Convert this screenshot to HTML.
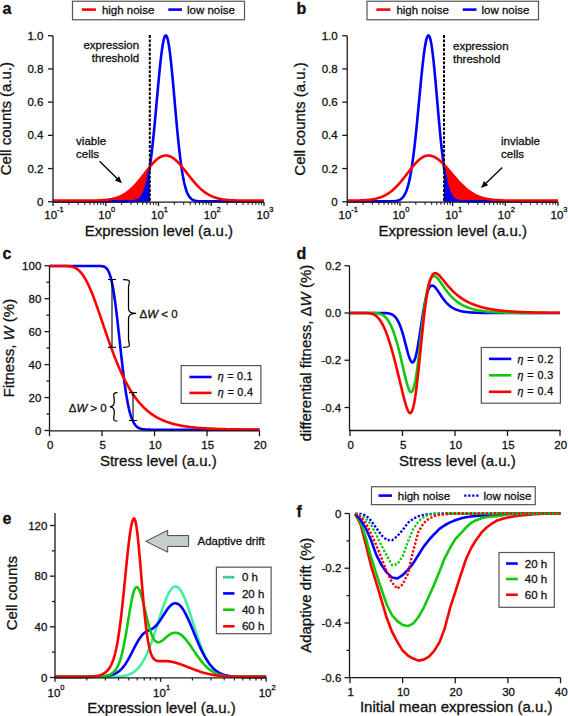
<!DOCTYPE html>
<html><head><meta charset="utf-8"><style>
html,body{margin:0;padding:0;background:#fff;}
body{width:568px;height:716px;overflow:hidden;}
svg{display:block;}
</style></head><body>
<svg width="568" height="716" viewBox="0 0 568 716">
<style>text{stroke:#111;stroke-width:0.3px;}</style>
<g font-family='"Liberation Sans", sans-serif' fill="#111">
<path d="M53,201.75 L53,200.65 L53.81,200.65 L54.63,200.65 L55.44,200.65 L56.26,200.65 L57.07,200.65 L57.89,200.65 L58.7,200.65 L59.52,200.65 L60.33,200.65 L61.15,200.65 L61.96,200.65 L62.78,200.65 L63.59,200.65 L64.41,200.65 L65.22,200.65 L66.03,200.65 L66.85,200.65 L67.66,200.65 L68.48,200.65 L69.29,200.65 L70.11,200.65 L70.92,200.65 L71.74,200.65 L72.55,200.65 L73.37,200.65 L74.18,200.65 L75,200.65 L75.81,200.65 L76.63,200.64 L77.44,200.64 L78.25,200.64 L79.07,200.64 L79.88,200.64 L80.7,200.64 L81.51,200.64 L82.33,200.63 L83.14,200.63 L83.96,200.63 L84.77,200.62 L85.59,200.62 L86.4,200.61 L87.22,200.61 L88.03,200.6 L88.85,200.6 L89.66,200.59 L90.47,200.58 L91.29,200.57 L92.1,200.55 L92.92,200.54 L93.73,200.52 L94.55,200.51 L95.36,200.49 L96.18,200.46 L96.99,200.44 L97.81,200.41 L98.62,200.38 L99.44,200.34 L100.25,200.3 L101.07,200.26 L101.88,200.21 L102.69,200.16 L103.51,200.1 L104.32,200.03 L105.14,199.95 L105.95,199.87 L106.77,199.78 L107.58,199.68 L108.4,199.57 L109.21,199.45 L110.03,199.32 L110.84,199.18 L111.66,199.02 L112.47,198.85 L113.29,198.67 L114.1,198.47 L114.92,198.25 L115.73,198.02 L116.54,197.77 L117.36,197.49 L118.17,197.2 L118.99,196.89 L119.8,196.55 L120.62,196.19 L121.43,195.8 L122.25,195.39 L123.06,194.96 L123.88,194.49 L124.69,194 L125.51,193.49 L126.32,192.94 L127.14,192.36 L127.95,191.75 L128.76,191.12 L129.58,190.45 L130.39,189.75 L131.21,189.02 L132.02,188.26 L132.84,187.48 L133.65,186.66 L134.47,185.82 L135.28,184.94 L136.1,184.05 L136.91,183.12 L137.73,182.17 L138.54,181.21 L139.36,180.22 L140.17,179.21 L140.98,178.19 L141.8,177.15 L142.61,176.1 L143.43,175.05 L144.24,173.99 L145.06,172.93 L145.87,171.87 L146.69,170.81 L147.5,169.76 L148.32,168.72 L149.13,167.7 L149.8,166.87 L149.8,201.75 Z" fill="#ff0000" stroke="none"/>
<path d="M53,201.75 L53,201.35 L53.81,201.35 L54.63,201.35 L55.44,201.35 L56.26,201.35 L57.07,201.35 L57.89,201.35 L58.7,201.35 L59.52,201.35 L60.33,201.35 L61.15,201.35 L61.96,201.35 L62.78,201.35 L63.59,201.35 L64.41,201.35 L65.22,201.35 L66.03,201.35 L66.85,201.35 L67.66,201.35 L68.48,201.35 L69.29,201.35 L70.11,201.35 L70.92,201.35 L71.74,201.35 L72.55,201.35 L73.37,201.35 L74.18,201.35 L75,201.35 L75.81,201.35 L76.63,201.35 L77.44,201.35 L78.25,201.35 L79.07,201.35 L79.88,201.35 L80.7,201.35 L81.51,201.35 L82.33,201.35 L83.14,201.35 L83.96,201.35 L84.77,201.35 L85.59,201.35 L86.4,201.35 L87.22,201.35 L88.03,201.35 L88.85,201.35 L89.66,201.35 L90.47,201.35 L91.29,201.35 L92.1,201.35 L92.92,201.35 L93.73,201.35 L94.55,201.35 L95.36,201.35 L96.18,201.35 L96.99,201.35 L97.81,201.35 L98.62,201.35 L99.44,201.35 L100.25,201.35 L101.07,201.35 L101.88,201.35 L102.69,201.35 L103.51,201.35 L104.32,201.35 L105.14,201.35 L105.95,201.35 L106.77,201.35 L107.58,201.35 L108.4,201.35 L109.21,201.35 L110.03,201.35 L110.84,201.35 L111.66,201.35 L112.47,201.35 L113.29,201.35 L114.1,201.35 L114.92,201.35 L115.73,201.35 L116.54,201.35 L117.36,201.35 L118.17,201.35 L118.99,201.35 L119.8,201.35 L120.62,201.35 L121.43,201.35 L122.25,201.35 L123.06,201.35 L123.88,201.35 L124.69,201.35 L125.51,201.34 L126.32,201.34 L127.14,201.33 L127.95,201.33 L128.76,201.32 L129.58,201.3 L130.39,201.28 L131.21,201.25 L132.02,201.2 L132.84,201.15 L133.65,201.07 L134.47,200.96 L135.28,200.82 L136.1,200.63 L136.91,200.39 L137.73,200.07 L138.54,199.66 L139.36,199.14 L140.17,198.47 L140.98,197.64 L141.8,196.61 L142.61,195.34 L143.43,193.79 L144.24,191.92 L145.06,189.69 L145.87,187.04 L146.69,183.94 L147.5,180.34 L148.32,176.19 L149.13,171.48 L149.8,167.17 L149.8,201.75 Z" fill="#0000ff" stroke="none"/>
<path d="M53,201.35 L53.81,201.35 L54.63,201.35 L55.44,201.35 L56.26,201.35 L57.07,201.35 L57.89,201.35 L58.7,201.35 L59.52,201.35 L60.33,201.35 L61.15,201.35 L61.96,201.35 L62.78,201.35 L63.59,201.35 L64.41,201.35 L65.22,201.35 L66.03,201.35 L66.85,201.35 L67.66,201.35 L68.48,201.35 L69.29,201.35 L70.11,201.35 L70.92,201.35 L71.74,201.35 L72.55,201.35 L73.37,201.35 L74.18,201.35 L75,201.35 L75.81,201.35 L76.63,201.35 L77.44,201.35 L78.25,201.35 L79.07,201.35 L79.88,201.35 L80.7,201.35 L81.51,201.35 L82.33,201.35 L83.14,201.35 L83.96,201.35 L84.77,201.35 L85.59,201.35 L86.4,201.35 L87.22,201.35 L88.03,201.35 L88.85,201.35 L89.66,201.35 L90.47,201.35 L91.29,201.35 L92.1,201.35 L92.92,201.35 L93.73,201.35 L94.55,201.35 L95.36,201.35 L96.18,201.35 L96.99,201.35 L97.81,201.35 L98.62,201.35 L99.44,201.35 L100.25,201.35 L101.07,201.35 L101.88,201.35 L102.69,201.35 L103.51,201.35 L104.32,201.35 L105.14,201.35 L105.95,201.35 L106.77,201.35 L107.58,201.35 L108.4,201.35 L109.21,201.35 L110.03,201.35 L110.84,201.35 L111.66,201.35 L112.47,201.35 L113.29,201.35 L114.1,201.35 L114.92,201.35 L115.73,201.35 L116.54,201.35 L117.36,201.35 L118.17,201.35 L118.99,201.35 L119.8,201.35 L120.62,201.35 L121.43,201.35 L122.25,201.35 L123.06,201.35 L123.88,201.35 L124.69,201.35 L125.51,201.34 L126.32,201.34 L127.14,201.33 L127.95,201.33 L128.76,201.32 L129.58,201.3 L130.39,201.28 L131.21,201.25 L132.02,201.2 L132.84,201.15 L133.65,201.07 L134.47,200.96 L135.28,200.82 L136.1,200.63 L136.91,200.39 L137.73,200.07 L138.54,199.66 L139.36,199.14 L140.17,198.47 L140.98,197.64 L141.8,196.61 L142.61,195.34 L143.43,193.79 L144.24,191.92 L145.06,189.69 L145.87,187.04 L146.69,183.94 L147.5,180.34 L148.32,176.19 L149.13,171.48 L149.95,166.17 L150.76,160.26 L151.58,153.74 L152.39,146.65 L153.2,139 L154.02,130.87 L154.83,122.33 L155.65,113.48 L156.46,104.43 L157.28,95.32 L158.09,86.31 L158.91,77.54 L159.72,69.2 L160.54,61.44 L161.35,54.44 L162.17,48.35 L162.98,43.3 L163.8,39.42 L164.61,36.79 L165.42,35.49 L166.24,35.56 L167.05,37.03 L167.87,39.87 L168.68,44.03 L169.5,49.38 L170.31,55.8 L171.13,63.14 L171.94,71.24 L172.76,79.9 L173.57,88.95 L174.39,98.22 L175.2,107.53 L176.02,116.73 L176.83,125.67 L177.64,134.25 L178.46,142.37 L179.27,149.94 L180.09,156.93 L180.9,163.29 L181.72,169.02 L182.53,174.12 L183.35,178.62 L184.16,182.53 L184.98,185.9 L185.79,188.78 L186.61,191.21 L187.42,193.23 L188.24,194.91 L189.05,196.29 L189.86,197.4 L190.68,198.3 L191.49,199.01 L192.31,199.57 L193.12,200.01 L193.94,200.35 L194.75,200.61 L195.57,200.81 L196.38,200.95 L197.2,201.06 L198.01,201.15 L198.83,201.2 L199.64,201.25 L200.46,201.28 L201.27,201.3 L202.08,201.32 L202.9,201.33 L203.71,201.33 L204.53,201.34 L205.34,201.34 L206.16,201.35 L206.97,201.35 L207.79,201.35 L208.6,201.35 L209.42,201.35 L210.23,201.35 L211.05,201.35 L211.86,201.35 L212.68,201.35 L213.49,201.35 L214.31,201.35 L215.12,201.35 L215.93,201.35 L216.75,201.35 L217.56,201.35 L218.38,201.35 L219.19,201.35 L220.01,201.35 L220.82,201.35 L221.64,201.35 L222.45,201.35 L223.27,201.35 L224.08,201.35 L224.9,201.35 L225.71,201.35 L226.53,201.35 L227.34,201.35 L228.15,201.35 L228.97,201.35 L229.78,201.35 L230.6,201.35 L231.41,201.35 L232.23,201.35 L233.04,201.35 L233.86,201.35 L234.67,201.35 L235.49,201.35 L236.3,201.35 L237.12,201.35 L237.93,201.35 L238.75,201.35 L239.56,201.35 L240.37,201.35 L241.19,201.35 L242,201.35 L242.82,201.35 L243.63,201.35 L244.45,201.35 L245.26,201.35 L246.08,201.35 L246.89,201.35 L247.71,201.35 L248.52,201.35 L249.34,201.35 L250.15,201.35 L250.97,201.35 L251.78,201.35 L252.59,201.35 L253.41,201.35 L254.22,201.35 L255.04,201.35 L255.85,201.35 L256.67,201.35 L257.48,201.35 L258.3,201.35 L259.11,201.35 L259.93,201.35 L260.74,201.35 L261.56,201.35 L262.37,201.35 L263.19,201.35 L264,201.35" fill="none" stroke="#0000ff" stroke-width="2.6" stroke-linejoin="round" />
<path d="M53,200.65 L53.81,200.65 L54.63,200.65 L55.44,200.65 L56.26,200.65 L57.07,200.65 L57.89,200.65 L58.7,200.65 L59.52,200.65 L60.33,200.65 L61.15,200.65 L61.96,200.65 L62.78,200.65 L63.59,200.65 L64.41,200.65 L65.22,200.65 L66.03,200.65 L66.85,200.65 L67.66,200.65 L68.48,200.65 L69.29,200.65 L70.11,200.65 L70.92,200.65 L71.74,200.65 L72.55,200.65 L73.37,200.65 L74.18,200.65 L75,200.65 L75.81,200.65 L76.63,200.64 L77.44,200.64 L78.25,200.64 L79.07,200.64 L79.88,200.64 L80.7,200.64 L81.51,200.64 L82.33,200.63 L83.14,200.63 L83.96,200.63 L84.77,200.62 L85.59,200.62 L86.4,200.61 L87.22,200.61 L88.03,200.6 L88.85,200.6 L89.66,200.59 L90.47,200.58 L91.29,200.57 L92.1,200.55 L92.92,200.54 L93.73,200.52 L94.55,200.51 L95.36,200.49 L96.18,200.46 L96.99,200.44 L97.81,200.41 L98.62,200.38 L99.44,200.34 L100.25,200.3 L101.07,200.26 L101.88,200.21 L102.69,200.16 L103.51,200.1 L104.32,200.03 L105.14,199.95 L105.95,199.87 L106.77,199.78 L107.58,199.68 L108.4,199.57 L109.21,199.45 L110.03,199.32 L110.84,199.18 L111.66,199.02 L112.47,198.85 L113.29,198.67 L114.1,198.47 L114.92,198.25 L115.73,198.02 L116.54,197.77 L117.36,197.49 L118.17,197.2 L118.99,196.89 L119.8,196.55 L120.62,196.19 L121.43,195.8 L122.25,195.39 L123.06,194.96 L123.88,194.49 L124.69,194 L125.51,193.49 L126.32,192.94 L127.14,192.36 L127.95,191.75 L128.76,191.12 L129.58,190.45 L130.39,189.75 L131.21,189.02 L132.02,188.26 L132.84,187.48 L133.65,186.66 L134.47,185.82 L135.28,184.94 L136.1,184.05 L136.91,183.12 L137.73,182.17 L138.54,181.21 L139.36,180.22 L140.17,179.21 L140.98,178.19 L141.8,177.15 L142.61,176.1 L143.43,175.05 L144.24,173.99 L145.06,172.93 L145.87,171.87 L146.69,170.81 L147.5,169.76 L148.32,168.72 L149.13,167.7 L149.95,166.69 L150.76,165.71 L151.58,164.75 L152.39,163.83 L153.2,162.93 L154.02,162.07 L154.83,161.25 L155.65,160.48 L156.46,159.75 L157.28,159.07 L158.09,158.44 L158.91,157.87 L159.72,157.35 L160.54,156.89 L161.35,156.5 L162.17,156.17 L162.98,155.9 L163.8,155.7 L164.61,155.57 L165.42,155.51 L166.24,155.51 L167.05,155.58 L167.87,155.71 L168.68,155.91 L169.5,156.17 L170.31,156.5 L171.13,156.89 L171.94,157.34 L172.76,157.84 L173.57,158.41 L174.39,159.02 L175.2,159.69 L176.02,160.4 L176.83,161.16 L177.64,161.97 L178.46,162.81 L179.27,163.69 L180.09,164.6 L180.9,165.53 L181.72,166.5 L182.53,167.49 L183.35,168.49 L184.16,169.51 L184.98,170.54 L185.79,171.58 L186.61,172.63 L187.42,173.68 L188.24,174.72 L189.05,175.76 L189.86,176.8 L190.68,177.82 L191.49,178.84 L192.31,179.84 L193.12,180.82 L193.94,181.78 L194.75,182.72 L195.57,183.65 L196.38,184.54 L197.2,185.41 L198.01,186.26 L198.83,187.08 L199.64,187.87 L200.46,188.63 L201.27,189.37 L202.08,190.07 L202.9,190.74 L203.71,191.39 L204.53,192 L205.34,192.59 L206.16,193.15 L206.97,193.68 L207.79,194.18 L208.6,194.65 L209.42,195.1 L210.23,195.52 L211.05,195.92 L211.86,196.29 L212.68,196.64 L213.49,196.97 L214.31,197.27 L215.12,197.56 L215.93,197.82 L216.75,198.07 L217.56,198.29 L218.38,198.5 L219.19,198.7 L220.01,198.88 L220.82,199.04 L221.64,199.2 L222.45,199.34 L223.27,199.46 L224.08,199.58 L224.9,199.69 L225.71,199.79 L226.53,199.87 L227.34,199.95 L228.15,200.03 L228.97,200.09 L229.78,200.15 L230.6,200.21 L231.41,200.26 L232.23,200.3 L233.04,200.34 L233.86,200.38 L234.67,200.41 L235.49,200.44 L236.3,200.46 L237.12,200.48 L237.93,200.5 L238.75,200.52 L239.56,200.54 L240.37,200.55 L241.19,200.56 L242,200.57 L242.82,200.58 L243.63,200.59 L244.45,200.6 L245.26,200.61 L246.08,200.61 L246.89,200.62 L247.71,200.62 L248.52,200.63 L249.34,200.63 L250.15,200.63 L250.97,200.63 L251.78,200.64 L252.59,200.64 L253.41,200.64 L254.22,200.64 L255.04,200.64 L255.85,200.64 L256.67,200.64 L257.48,200.65 L258.3,200.65 L259.11,200.65 L259.93,200.65 L260.74,200.65 L261.56,200.65 L262.37,200.65 L263.19,200.65 L264,200.65" fill="none" stroke="#ff0000" stroke-width="2.6" stroke-linejoin="round" />
<line x1="149.8" y1="35" x2="149.8" y2="201.75" stroke="#000" stroke-width="2" stroke-dasharray="2.9 1.5"/>
<line x1="53" y1="35.75" x2="53" y2="202.05" stroke="#1a1a1a" stroke-width="1.3" />
<line x1="48" y1="201.75" x2="53" y2="201.75" stroke="#1a1a1a" stroke-width="1.3" />
<text x="43.4" y="205.75" font-size="11.5" text-anchor="end" font-weight="normal" >0</text>
<line x1="48" y1="168.55" x2="53" y2="168.55" stroke="#1a1a1a" stroke-width="1.3" />
<text x="43.4" y="172.55" font-size="11.5" text-anchor="end" font-weight="normal" >0.2</text>
<line x1="48" y1="135.35" x2="53" y2="135.35" stroke="#1a1a1a" stroke-width="1.3" />
<text x="43.4" y="139.35" font-size="11.5" text-anchor="end" font-weight="normal" >0.4</text>
<line x1="48" y1="102.15" x2="53" y2="102.15" stroke="#1a1a1a" stroke-width="1.3" />
<text x="43.4" y="106.15" font-size="11.5" text-anchor="end" font-weight="normal" >0.6</text>
<line x1="48" y1="68.95" x2="53" y2="68.95" stroke="#1a1a1a" stroke-width="1.3" />
<text x="43.4" y="72.95" font-size="11.5" text-anchor="end" font-weight="normal" >0.8</text>
<line x1="48" y1="35.75" x2="53" y2="35.75" stroke="#1a1a1a" stroke-width="1.3" />
<text x="43.4" y="39.75" font-size="11.5" text-anchor="end" font-weight="normal" >1.0</text>
<line x1="53" y1="202.05" x2="264" y2="202.05" stroke="#1a1a1a" stroke-width="1.3" />
<line x1="53" y1="202.05" x2="53" y2="206.05" stroke="#1a1a1a" stroke-width="1.3" />
<text x="54" y="218.55" font-size="11.5" text-anchor="middle">10<tspan font-size="7.5" dy="-7">-1</tspan></text>
<line x1="68.88" y1="202.05" x2="68.88" y2="204.65" stroke="#1a1a1a" stroke-width="1.1" />
<line x1="78.17" y1="202.05" x2="78.17" y2="204.65" stroke="#1a1a1a" stroke-width="1.1" />
<line x1="84.76" y1="202.05" x2="84.76" y2="204.65" stroke="#1a1a1a" stroke-width="1.1" />
<line x1="89.87" y1="202.05" x2="89.87" y2="204.65" stroke="#1a1a1a" stroke-width="1.1" />
<line x1="94.05" y1="202.05" x2="94.05" y2="204.65" stroke="#1a1a1a" stroke-width="1.1" />
<line x1="97.58" y1="202.05" x2="97.58" y2="204.65" stroke="#1a1a1a" stroke-width="1.1" />
<line x1="100.64" y1="202.05" x2="100.64" y2="204.65" stroke="#1a1a1a" stroke-width="1.1" />
<line x1="103.34" y1="202.05" x2="103.34" y2="204.65" stroke="#1a1a1a" stroke-width="1.1" />
<line x1="105.75" y1="202.05" x2="105.75" y2="206.05" stroke="#1a1a1a" stroke-width="1.3" />
<text x="106.75" y="218.55" font-size="11.5" text-anchor="middle">10<tspan font-size="7.5" dy="-7">0</tspan></text>
<line x1="121.63" y1="202.05" x2="121.63" y2="204.65" stroke="#1a1a1a" stroke-width="1.1" />
<line x1="130.92" y1="202.05" x2="130.92" y2="204.65" stroke="#1a1a1a" stroke-width="1.1" />
<line x1="137.51" y1="202.05" x2="137.51" y2="204.65" stroke="#1a1a1a" stroke-width="1.1" />
<line x1="142.62" y1="202.05" x2="142.62" y2="204.65" stroke="#1a1a1a" stroke-width="1.1" />
<line x1="146.8" y1="202.05" x2="146.8" y2="204.65" stroke="#1a1a1a" stroke-width="1.1" />
<line x1="150.33" y1="202.05" x2="150.33" y2="204.65" stroke="#1a1a1a" stroke-width="1.1" />
<line x1="153.39" y1="202.05" x2="153.39" y2="204.65" stroke="#1a1a1a" stroke-width="1.1" />
<line x1="156.09" y1="202.05" x2="156.09" y2="204.65" stroke="#1a1a1a" stroke-width="1.1" />
<line x1="158.5" y1="202.05" x2="158.5" y2="206.05" stroke="#1a1a1a" stroke-width="1.3" />
<text x="159.5" y="218.55" font-size="11.5" text-anchor="middle">10<tspan font-size="7.5" dy="-7">1</tspan></text>
<line x1="174.38" y1="202.05" x2="174.38" y2="204.65" stroke="#1a1a1a" stroke-width="1.1" />
<line x1="183.67" y1="202.05" x2="183.67" y2="204.65" stroke="#1a1a1a" stroke-width="1.1" />
<line x1="190.26" y1="202.05" x2="190.26" y2="204.65" stroke="#1a1a1a" stroke-width="1.1" />
<line x1="195.37" y1="202.05" x2="195.37" y2="204.65" stroke="#1a1a1a" stroke-width="1.1" />
<line x1="199.55" y1="202.05" x2="199.55" y2="204.65" stroke="#1a1a1a" stroke-width="1.1" />
<line x1="203.08" y1="202.05" x2="203.08" y2="204.65" stroke="#1a1a1a" stroke-width="1.1" />
<line x1="206.14" y1="202.05" x2="206.14" y2="204.65" stroke="#1a1a1a" stroke-width="1.1" />
<line x1="208.84" y1="202.05" x2="208.84" y2="204.65" stroke="#1a1a1a" stroke-width="1.1" />
<line x1="211.25" y1="202.05" x2="211.25" y2="206.05" stroke="#1a1a1a" stroke-width="1.3" />
<text x="212.25" y="218.55" font-size="11.5" text-anchor="middle">10<tspan font-size="7.5" dy="-7">2</tspan></text>
<line x1="227.13" y1="202.05" x2="227.13" y2="204.65" stroke="#1a1a1a" stroke-width="1.1" />
<line x1="236.42" y1="202.05" x2="236.42" y2="204.65" stroke="#1a1a1a" stroke-width="1.1" />
<line x1="243.01" y1="202.05" x2="243.01" y2="204.65" stroke="#1a1a1a" stroke-width="1.1" />
<line x1="248.12" y1="202.05" x2="248.12" y2="204.65" stroke="#1a1a1a" stroke-width="1.1" />
<line x1="252.3" y1="202.05" x2="252.3" y2="204.65" stroke="#1a1a1a" stroke-width="1.1" />
<line x1="255.83" y1="202.05" x2="255.83" y2="204.65" stroke="#1a1a1a" stroke-width="1.1" />
<line x1="258.89" y1="202.05" x2="258.89" y2="204.65" stroke="#1a1a1a" stroke-width="1.1" />
<line x1="261.59" y1="202.05" x2="261.59" y2="204.65" stroke="#1a1a1a" stroke-width="1.1" />
<line x1="264" y1="202.05" x2="264" y2="206.05" stroke="#1a1a1a" stroke-width="1.3" />
<text x="265" y="218.55" font-size="11.5" text-anchor="middle">10<tspan font-size="7.5" dy="-7">3</tspan></text>
<path d="M444,201.75 L444,164.67 L444.09,164.76 L444.9,165.63 L445.71,166.53 L446.53,167.44 L447.34,168.37 L448.15,169.31 L448.97,170.26 L449.78,171.22 L450.6,172.19 L451.41,173.16 L452.22,174.12 L453.04,175.09 L453.85,176.05 L454.66,177.01 L455.48,177.96 L456.29,178.89 L457.11,179.82 L457.92,180.72 L458.73,181.62 L459.55,182.49 L460.36,183.35 L461.17,184.19 L461.99,185.01 L462.8,185.8 L463.62,186.57 L464.43,187.32 L465.24,188.05 L466.06,188.75 L466.87,189.42 L467.68,190.07 L468.5,190.7 L469.31,191.3 L470.13,191.87 L470.94,192.42 L471.75,192.95 L472.57,193.45 L473.38,193.92 L474.19,194.38 L475.01,194.8 L475.82,195.21 L476.64,195.6 L477.45,195.96 L478.26,196.3 L479.08,196.63 L479.89,196.93 L480.7,197.21 L481.52,197.48 L482.33,197.73 L483.15,197.97 L483.96,198.18 L484.77,198.39 L485.59,198.58 L486.4,198.75 L487.21,198.91 L488.03,199.06 L488.84,199.2 L489.66,199.33 L490.47,199.45 L491.28,199.56 L492.1,199.66 L492.91,199.76 L493.72,199.84 L494.54,199.92 L495.35,199.99 L496.17,200.05 L496.98,200.11 L497.79,200.17 L498.61,200.22 L499.42,200.26 L500.23,200.3 L501.05,200.34 L501.86,200.37 L502.68,200.4 L503.49,200.43 L504.3,200.45 L505.12,200.47 L505.93,200.49 L506.74,200.51 L507.56,200.53 L508.37,200.54 L509.19,200.55 L510,200.57 L510.81,200.58 L511.63,200.58 L512.44,200.59 L513.25,200.6 L514.07,200.61 L514.88,200.61 L515.7,200.62 L516.51,200.62 L517.32,200.62 L518.14,200.63 L518.95,200.63 L519.76,200.63 L520.58,200.64 L521.39,200.64 L522.21,200.64 L523.02,200.64 L523.83,200.64 L524.65,200.64 L525.46,200.64 L526.27,200.64 L527.09,200.65 L527.9,200.65 L528.72,200.65 L529.53,200.65 L530.34,200.65 L531.16,200.65 L531.97,200.65 L532.78,200.65 L533.6,200.65 L534.41,200.65 L535.23,200.65 L536.04,200.65 L536.85,200.65 L537.67,200.65 L538.48,200.65 L539.29,200.65 L540.11,200.65 L540.92,200.65 L541.74,200.65 L542.55,200.65 L543.36,200.65 L544.18,200.65 L544.99,200.65 L545.8,200.65 L546.62,200.65 L547.43,200.65 L548.25,200.65 L549.06,200.65 L549.87,200.65 L550.69,200.65 L551.5,200.65 L552.31,200.65 L553.13,200.65 L553.94,200.65 L554.76,200.65 L555.57,200.65 L556.38,200.65 L557.2,200.65 L558.01,200.65 L558.01,201.75 Z" fill="#ff0000" stroke="none"/>
<path d="M444,201.75 L444,167.4 L444.09,167.99 L444.9,173.26 L445.71,177.9 L446.53,181.95 L447.34,185.44 L448.15,188.41 L448.97,190.92 L449.78,193.02 L450.6,194.75 L451.41,196.17 L452.22,197.32 L453.04,198.24 L453.85,198.97 L454.66,199.55 L455.48,199.99 L456.29,200.34 L457.11,200.6 L457.92,200.8 L458.73,200.95 L459.55,201.07 L460.36,201.15 L461.17,201.21 L461.99,201.25 L462.8,201.28 L463.62,201.3 L464.43,201.32 L465.24,201.33 L466.06,201.34 L466.87,201.34 L467.68,201.34 L468.5,201.35 L469.31,201.35 L470.13,201.35 L470.94,201.35 L471.75,201.35 L472.57,201.35 L473.38,201.35 L474.19,201.35 L475.01,201.35 L475.82,201.35 L476.64,201.35 L477.45,201.35 L478.26,201.35 L479.08,201.35 L479.89,201.35 L480.7,201.35 L481.52,201.35 L482.33,201.35 L483.15,201.35 L483.96,201.35 L484.77,201.35 L485.59,201.35 L486.4,201.35 L487.21,201.35 L488.03,201.35 L488.84,201.35 L489.66,201.35 L490.47,201.35 L491.28,201.35 L492.1,201.35 L492.91,201.35 L493.72,201.35 L494.54,201.35 L495.35,201.35 L496.17,201.35 L496.98,201.35 L497.79,201.35 L498.61,201.35 L499.42,201.35 L500.23,201.35 L501.05,201.35 L501.86,201.35 L502.68,201.35 L503.49,201.35 L504.3,201.35 L505.12,201.35 L505.93,201.35 L506.74,201.35 L507.56,201.35 L508.37,201.35 L509.19,201.35 L510,201.35 L510.81,201.35 L511.63,201.35 L512.44,201.35 L513.25,201.35 L514.07,201.35 L514.88,201.35 L515.7,201.35 L516.51,201.35 L517.32,201.35 L518.14,201.35 L518.95,201.35 L519.76,201.35 L520.58,201.35 L521.39,201.35 L522.21,201.35 L523.02,201.35 L523.83,201.35 L524.65,201.35 L525.46,201.35 L526.27,201.35 L527.09,201.35 L527.9,201.35 L528.72,201.35 L529.53,201.35 L530.34,201.35 L531.16,201.35 L531.97,201.35 L532.78,201.35 L533.6,201.35 L534.41,201.35 L535.23,201.35 L536.04,201.35 L536.85,201.35 L537.67,201.35 L538.48,201.35 L539.29,201.35 L540.11,201.35 L540.92,201.35 L541.74,201.35 L542.55,201.35 L543.36,201.35 L544.18,201.35 L544.99,201.35 L545.8,201.35 L546.62,201.35 L547.43,201.35 L548.25,201.35 L549.06,201.35 L549.87,201.35 L550.69,201.35 L551.5,201.35 L552.31,201.35 L553.13,201.35 L553.94,201.35 L554.76,201.35 L555.57,201.35 L556.38,201.35 L557.2,201.35 L558.01,201.35 L558.01,201.75 Z" fill="#0000ff" stroke="none"/>
<path d="M347.25,201.35 L348.06,201.35 L348.88,201.35 L349.69,201.35 L350.5,201.35 L351.32,201.35 L352.13,201.35 L352.95,201.35 L353.76,201.35 L354.57,201.35 L355.39,201.35 L356.2,201.35 L357.01,201.35 L357.83,201.35 L358.64,201.35 L359.46,201.35 L360.27,201.35 L361.08,201.35 L361.9,201.35 L362.71,201.35 L363.52,201.35 L364.34,201.35 L365.15,201.35 L365.97,201.35 L366.78,201.35 L367.59,201.35 L368.41,201.35 L369.22,201.35 L370.03,201.35 L370.85,201.35 L371.66,201.35 L372.48,201.35 L373.29,201.35 L374.1,201.35 L374.92,201.35 L375.73,201.35 L376.54,201.35 L377.36,201.35 L378.17,201.35 L378.99,201.35 L379.8,201.35 L380.61,201.35 L381.43,201.35 L382.24,201.35 L383.05,201.35 L383.87,201.35 L384.68,201.35 L385.5,201.35 L386.31,201.34 L387.12,201.34 L387.94,201.33 L388.75,201.33 L389.56,201.32 L390.38,201.31 L391.19,201.29 L392.01,201.26 L392.82,201.23 L393.63,201.18 L394.45,201.12 L395.26,201.03 L396.07,200.92 L396.89,200.77 L397.7,200.58 L398.52,200.33 L399.33,200 L400.14,199.6 L400.96,199.08 L401.77,198.44 L402.58,197.64 L403.4,196.65 L404.21,195.46 L405.03,194.01 L405.84,192.27 L406.65,190.2 L407.47,187.77 L408.28,184.93 L409.09,181.64 L409.91,177.87 L410.72,173.59 L411.54,168.78 L412.35,163.41 L413.16,157.49 L413.98,151.03 L414.79,144.04 L415.6,136.57 L416.42,128.67 L417.23,120.42 L418.05,111.91 L418.86,103.24 L419.67,94.53 L420.49,85.92 L421.3,77.54 L422.11,69.55 L422.93,62.09 L423.74,55.31 L424.56,49.34 L425.37,44.3 L426.18,40.32 L427,37.46 L427.81,35.8 L428.62,35.37 L429.44,36.31 L430.25,38.68 L431.07,42.41 L431.88,47.41 L432.69,53.55 L433.51,60.69 L434.32,68.64 L435.13,77.23 L435.95,86.28 L436.76,95.6 L437.58,105.01 L438.39,114.35 L439.2,123.47 L440.02,132.23 L440.83,140.55 L441.64,148.33 L442.46,155.52 L443.27,162.08 L444.09,167.99 L444.9,173.26 L445.71,177.9 L446.53,181.95 L447.34,185.44 L448.15,188.41 L448.97,190.92 L449.78,193.02 L450.6,194.75 L451.41,196.17 L452.22,197.32 L453.04,198.24 L453.85,198.97 L454.66,199.55 L455.48,199.99 L456.29,200.34 L457.11,200.6 L457.92,200.8 L458.73,200.95 L459.55,201.07 L460.36,201.15 L461.17,201.21 L461.99,201.25 L462.8,201.28 L463.62,201.3 L464.43,201.32 L465.24,201.33 L466.06,201.34 L466.87,201.34 L467.68,201.34 L468.5,201.35 L469.31,201.35 L470.13,201.35 L470.94,201.35 L471.75,201.35 L472.57,201.35 L473.38,201.35 L474.19,201.35 L475.01,201.35 L475.82,201.35 L476.64,201.35 L477.45,201.35 L478.26,201.35 L479.08,201.35 L479.89,201.35 L480.7,201.35 L481.52,201.35 L482.33,201.35 L483.15,201.35 L483.96,201.35 L484.77,201.35 L485.59,201.35 L486.4,201.35 L487.21,201.35 L488.03,201.35 L488.84,201.35 L489.66,201.35 L490.47,201.35 L491.28,201.35 L492.1,201.35 L492.91,201.35 L493.72,201.35 L494.54,201.35 L495.35,201.35 L496.17,201.35 L496.98,201.35 L497.79,201.35 L498.61,201.35 L499.42,201.35 L500.23,201.35 L501.05,201.35 L501.86,201.35 L502.68,201.35 L503.49,201.35 L504.3,201.35 L505.12,201.35 L505.93,201.35 L506.74,201.35 L507.56,201.35 L508.37,201.35 L509.19,201.35 L510,201.35 L510.81,201.35 L511.63,201.35 L512.44,201.35 L513.25,201.35 L514.07,201.35 L514.88,201.35 L515.7,201.35 L516.51,201.35 L517.32,201.35 L518.14,201.35 L518.95,201.35 L519.76,201.35 L520.58,201.35 L521.39,201.35 L522.21,201.35 L523.02,201.35 L523.83,201.35 L524.65,201.35 L525.46,201.35 L526.27,201.35 L527.09,201.35 L527.9,201.35 L528.72,201.35 L529.53,201.35 L530.34,201.35 L531.16,201.35 L531.97,201.35 L532.78,201.35 L533.6,201.35 L534.41,201.35 L535.23,201.35 L536.04,201.35 L536.85,201.35 L537.67,201.35 L538.48,201.35 L539.29,201.35 L540.11,201.35 L540.92,201.35 L541.74,201.35 L542.55,201.35 L543.36,201.35 L544.18,201.35 L544.99,201.35 L545.8,201.35 L546.62,201.35 L547.43,201.35 L548.25,201.35 L549.06,201.35 L549.87,201.35 L550.69,201.35 L551.5,201.35 L552.31,201.35 L553.13,201.35 L553.94,201.35 L554.76,201.35 L555.57,201.35 L556.38,201.35 L557.2,201.35 L558.01,201.35" fill="none" stroke="#0000ff" stroke-width="2.6" stroke-linejoin="round" />
<path d="M347.25,200.62 L348.06,200.62 L348.88,200.62 L349.69,200.61 L350.5,200.6 L351.32,200.6 L352.13,200.59 L352.95,200.58 L353.76,200.57 L354.57,200.56 L355.39,200.54 L356.2,200.53 L357.01,200.51 L357.83,200.49 L358.64,200.47 L359.46,200.45 L360.27,200.42 L361.08,200.39 L361.9,200.35 L362.71,200.32 L363.52,200.27 L364.34,200.23 L365.15,200.17 L365.97,200.11 L366.78,200.05 L367.59,199.98 L368.41,199.9 L369.22,199.81 L370.03,199.71 L370.85,199.61 L371.66,199.49 L372.48,199.36 L373.29,199.23 L374.1,199.07 L374.92,198.91 L375.73,198.73 L376.54,198.53 L377.36,198.32 L378.17,198.09 L378.99,197.85 L379.8,197.58 L380.61,197.3 L381.43,196.99 L382.24,196.66 L383.05,196.31 L383.87,195.93 L384.68,195.53 L385.5,195.1 L386.31,194.65 L387.12,194.17 L387.94,193.66 L388.75,193.12 L389.56,192.55 L390.38,191.96 L391.19,191.33 L392.01,190.68 L392.82,189.99 L393.63,189.27 L394.45,188.52 L395.26,187.75 L396.07,186.94 L396.89,186.11 L397.7,185.25 L398.52,184.36 L399.33,183.44 L400.14,182.51 L400.96,181.55 L401.77,180.56 L402.58,179.56 L403.4,178.55 L404.21,177.52 L405.03,176.48 L405.84,175.42 L406.65,174.37 L407.47,173.31 L408.28,172.25 L409.09,171.19 L409.91,170.14 L410.72,169.1 L411.54,168.07 L412.35,167.06 L413.16,166.07 L413.98,165.1 L414.79,164.16 L415.6,163.26 L416.42,162.38 L417.23,161.55 L418.05,160.76 L418.86,160.01 L419.67,159.32 L420.49,158.67 L421.3,158.07 L422.11,157.54 L422.93,157.06 L423.74,156.64 L424.56,156.29 L425.37,156 L426.18,155.77 L427,155.61 L427.81,155.52 L428.62,155.5 L429.44,155.54 L430.25,155.63 L431.07,155.78 L431.88,155.98 L432.69,156.24 L433.51,156.56 L434.32,156.92 L435.13,157.34 L435.95,157.8 L436.76,158.32 L437.58,158.88 L438.39,159.48 L439.2,160.13 L440.02,160.82 L440.83,161.54 L441.64,162.3 L442.46,163.09 L443.27,163.91 L444.09,164.76 L444.9,165.63 L445.71,166.53 L446.53,167.44 L447.34,168.37 L448.15,169.31 L448.97,170.26 L449.78,171.22 L450.6,172.19 L451.41,173.16 L452.22,174.12 L453.04,175.09 L453.85,176.05 L454.66,177.01 L455.48,177.96 L456.29,178.89 L457.11,179.82 L457.92,180.72 L458.73,181.62 L459.55,182.49 L460.36,183.35 L461.17,184.19 L461.99,185.01 L462.8,185.8 L463.62,186.57 L464.43,187.32 L465.24,188.05 L466.06,188.75 L466.87,189.42 L467.68,190.07 L468.5,190.7 L469.31,191.3 L470.13,191.87 L470.94,192.42 L471.75,192.95 L472.57,193.45 L473.38,193.92 L474.19,194.38 L475.01,194.8 L475.82,195.21 L476.64,195.6 L477.45,195.96 L478.26,196.3 L479.08,196.63 L479.89,196.93 L480.7,197.21 L481.52,197.48 L482.33,197.73 L483.15,197.97 L483.96,198.18 L484.77,198.39 L485.59,198.58 L486.4,198.75 L487.21,198.91 L488.03,199.06 L488.84,199.2 L489.66,199.33 L490.47,199.45 L491.28,199.56 L492.1,199.66 L492.91,199.76 L493.72,199.84 L494.54,199.92 L495.35,199.99 L496.17,200.05 L496.98,200.11 L497.79,200.17 L498.61,200.22 L499.42,200.26 L500.23,200.3 L501.05,200.34 L501.86,200.37 L502.68,200.4 L503.49,200.43 L504.3,200.45 L505.12,200.47 L505.93,200.49 L506.74,200.51 L507.56,200.53 L508.37,200.54 L509.19,200.55 L510,200.57 L510.81,200.58 L511.63,200.58 L512.44,200.59 L513.25,200.6 L514.07,200.61 L514.88,200.61 L515.7,200.62 L516.51,200.62 L517.32,200.62 L518.14,200.63 L518.95,200.63 L519.76,200.63 L520.58,200.64 L521.39,200.64 L522.21,200.64 L523.02,200.64 L523.83,200.64 L524.65,200.64 L525.46,200.64 L526.27,200.64 L527.09,200.65 L527.9,200.65 L528.72,200.65 L529.53,200.65 L530.34,200.65 L531.16,200.65 L531.97,200.65 L532.78,200.65 L533.6,200.65 L534.41,200.65 L535.23,200.65 L536.04,200.65 L536.85,200.65 L537.67,200.65 L538.48,200.65 L539.29,200.65 L540.11,200.65 L540.92,200.65 L541.74,200.65 L542.55,200.65 L543.36,200.65 L544.18,200.65 L544.99,200.65 L545.8,200.65 L546.62,200.65 L547.43,200.65 L548.25,200.65 L549.06,200.65 L549.87,200.65 L550.69,200.65 L551.5,200.65 L552.31,200.65 L553.13,200.65 L553.94,200.65 L554.76,200.65 L555.57,200.65 L556.38,200.65 L557.2,200.65 L558.01,200.65" fill="none" stroke="#ff0000" stroke-width="2.6" stroke-linejoin="round" />
<line x1="444" y1="35" x2="444" y2="201.75" stroke="#000" stroke-width="2" stroke-dasharray="2.9 1.5"/>
<line x1="347.25" y1="35.75" x2="347.25" y2="202.05" stroke="#1a1a1a" stroke-width="1.3" />
<line x1="342.25" y1="201.75" x2="347.25" y2="201.75" stroke="#1a1a1a" stroke-width="1.3" />
<text x="337.65" y="205.75" font-size="11.5" text-anchor="end" font-weight="normal" >0</text>
<line x1="342.25" y1="168.55" x2="347.25" y2="168.55" stroke="#1a1a1a" stroke-width="1.3" />
<text x="337.65" y="172.55" font-size="11.5" text-anchor="end" font-weight="normal" >0.2</text>
<line x1="342.25" y1="135.35" x2="347.25" y2="135.35" stroke="#1a1a1a" stroke-width="1.3" />
<text x="337.65" y="139.35" font-size="11.5" text-anchor="end" font-weight="normal" >0.4</text>
<line x1="342.25" y1="102.15" x2="347.25" y2="102.15" stroke="#1a1a1a" stroke-width="1.3" />
<text x="337.65" y="106.15" font-size="11.5" text-anchor="end" font-weight="normal" >0.6</text>
<line x1="342.25" y1="68.95" x2="347.25" y2="68.95" stroke="#1a1a1a" stroke-width="1.3" />
<text x="337.65" y="72.95" font-size="11.5" text-anchor="end" font-weight="normal" >0.8</text>
<line x1="342.25" y1="35.75" x2="347.25" y2="35.75" stroke="#1a1a1a" stroke-width="1.3" />
<text x="337.65" y="39.75" font-size="11.5" text-anchor="end" font-weight="normal" >1.0</text>
<line x1="347.25" y1="202.05" x2="558.01" y2="202.05" stroke="#1a1a1a" stroke-width="1.3" />
<line x1="347.25" y1="202.05" x2="347.25" y2="206.05" stroke="#1a1a1a" stroke-width="1.3" />
<text x="348.25" y="218.55" font-size="11.5" text-anchor="middle">10<tspan font-size="7.5" dy="-7">-1</tspan></text>
<line x1="363.11" y1="202.05" x2="363.11" y2="204.65" stroke="#1a1a1a" stroke-width="1.1" />
<line x1="372.39" y1="202.05" x2="372.39" y2="204.65" stroke="#1a1a1a" stroke-width="1.1" />
<line x1="378.97" y1="202.05" x2="378.97" y2="204.65" stroke="#1a1a1a" stroke-width="1.1" />
<line x1="384.08" y1="202.05" x2="384.08" y2="204.65" stroke="#1a1a1a" stroke-width="1.1" />
<line x1="388.25" y1="202.05" x2="388.25" y2="204.65" stroke="#1a1a1a" stroke-width="1.1" />
<line x1="391.78" y1="202.05" x2="391.78" y2="204.65" stroke="#1a1a1a" stroke-width="1.1" />
<line x1="394.83" y1="202.05" x2="394.83" y2="204.65" stroke="#1a1a1a" stroke-width="1.1" />
<line x1="397.53" y1="202.05" x2="397.53" y2="204.65" stroke="#1a1a1a" stroke-width="1.1" />
<line x1="399.94" y1="202.05" x2="399.94" y2="206.05" stroke="#1a1a1a" stroke-width="1.3" />
<text x="400.94" y="218.55" font-size="11.5" text-anchor="middle">10<tspan font-size="7.5" dy="-7">0</tspan></text>
<line x1="415.8" y1="202.05" x2="415.8" y2="204.65" stroke="#1a1a1a" stroke-width="1.1" />
<line x1="425.08" y1="202.05" x2="425.08" y2="204.65" stroke="#1a1a1a" stroke-width="1.1" />
<line x1="431.66" y1="202.05" x2="431.66" y2="204.65" stroke="#1a1a1a" stroke-width="1.1" />
<line x1="436.77" y1="202.05" x2="436.77" y2="204.65" stroke="#1a1a1a" stroke-width="1.1" />
<line x1="440.94" y1="202.05" x2="440.94" y2="204.65" stroke="#1a1a1a" stroke-width="1.1" />
<line x1="444.47" y1="202.05" x2="444.47" y2="204.65" stroke="#1a1a1a" stroke-width="1.1" />
<line x1="447.52" y1="202.05" x2="447.52" y2="204.65" stroke="#1a1a1a" stroke-width="1.1" />
<line x1="450.22" y1="202.05" x2="450.22" y2="204.65" stroke="#1a1a1a" stroke-width="1.1" />
<line x1="452.63" y1="202.05" x2="452.63" y2="206.05" stroke="#1a1a1a" stroke-width="1.3" />
<text x="453.63" y="218.55" font-size="11.5" text-anchor="middle">10<tspan font-size="7.5" dy="-7">1</tspan></text>
<line x1="468.49" y1="202.05" x2="468.49" y2="204.65" stroke="#1a1a1a" stroke-width="1.1" />
<line x1="477.77" y1="202.05" x2="477.77" y2="204.65" stroke="#1a1a1a" stroke-width="1.1" />
<line x1="484.35" y1="202.05" x2="484.35" y2="204.65" stroke="#1a1a1a" stroke-width="1.1" />
<line x1="489.46" y1="202.05" x2="489.46" y2="204.65" stroke="#1a1a1a" stroke-width="1.1" />
<line x1="493.63" y1="202.05" x2="493.63" y2="204.65" stroke="#1a1a1a" stroke-width="1.1" />
<line x1="497.16" y1="202.05" x2="497.16" y2="204.65" stroke="#1a1a1a" stroke-width="1.1" />
<line x1="500.21" y1="202.05" x2="500.21" y2="204.65" stroke="#1a1a1a" stroke-width="1.1" />
<line x1="502.91" y1="202.05" x2="502.91" y2="204.65" stroke="#1a1a1a" stroke-width="1.1" />
<line x1="505.32" y1="202.05" x2="505.32" y2="206.05" stroke="#1a1a1a" stroke-width="1.3" />
<text x="506.32" y="218.55" font-size="11.5" text-anchor="middle">10<tspan font-size="7.5" dy="-7">2</tspan></text>
<line x1="521.18" y1="202.05" x2="521.18" y2="204.65" stroke="#1a1a1a" stroke-width="1.1" />
<line x1="530.46" y1="202.05" x2="530.46" y2="204.65" stroke="#1a1a1a" stroke-width="1.1" />
<line x1="537.04" y1="202.05" x2="537.04" y2="204.65" stroke="#1a1a1a" stroke-width="1.1" />
<line x1="542.15" y1="202.05" x2="542.15" y2="204.65" stroke="#1a1a1a" stroke-width="1.1" />
<line x1="546.32" y1="202.05" x2="546.32" y2="204.65" stroke="#1a1a1a" stroke-width="1.1" />
<line x1="549.85" y1="202.05" x2="549.85" y2="204.65" stroke="#1a1a1a" stroke-width="1.1" />
<line x1="552.9" y1="202.05" x2="552.9" y2="204.65" stroke="#1a1a1a" stroke-width="1.1" />
<line x1="555.6" y1="202.05" x2="555.6" y2="204.65" stroke="#1a1a1a" stroke-width="1.1" />
<line x1="558.01" y1="202.05" x2="558.01" y2="206.05" stroke="#1a1a1a" stroke-width="1.3" />
<text x="559.01" y="218.55" font-size="11.5" text-anchor="middle">10<tspan font-size="7.5" dy="-7">3</tspan></text>
<text x="2.4" y="14" font-size="16" text-anchor="start" font-weight="bold" >a</text>
<text x="296.6" y="14" font-size="16" text-anchor="start" font-weight="bold" >b</text>
<text x="2.4" y="258.8" font-size="16" text-anchor="start" font-weight="bold" >c</text>
<text x="296.6" y="258.8" font-size="16" text-anchor="start" font-weight="bold" >d</text>
<text x="2.4" y="523.8" font-size="16" text-anchor="start" font-weight="bold" >e</text>
<text x="296.6" y="517.3" font-size="16" text-anchor="start" font-weight="bold" >f</text>
<rect x="72.5" y="1.25" width="172" height="18.5" fill="#fff" stroke="#555" stroke-width="1.2"/>
<line x1="81.9" y1="9.6" x2="95.9" y2="9.6" stroke="#ff0000" stroke-width="2.6" />
<text x="101.9" y="13.6" font-size="11.5" text-anchor="start" font-weight="normal" >high noise</text>
<line x1="168.25" y1="9.6" x2="182" y2="9.6" stroke="#0000ff" stroke-width="2.6" />
<text x="187" y="13.6" font-size="11.5" text-anchor="start" font-weight="normal" >low noise</text>
<rect x="367" y="1.25" width="171.5" height="18.5" fill="#fff" stroke="#555" stroke-width="1.2"/>
<line x1="376.4" y1="9.6" x2="390.4" y2="9.6" stroke="#ff0000" stroke-width="2.6" />
<text x="396.4" y="13.6" font-size="11.5" text-anchor="start" font-weight="normal" >high noise</text>
<line x1="462.75" y1="9.6" x2="476.5" y2="9.6" stroke="#0000ff" stroke-width="2.6" />
<text x="481.5" y="13.6" font-size="11.5" text-anchor="start" font-weight="normal" >low noise</text>
<text x="158.9" y="235.6" font-size="15" text-anchor="middle" font-weight="normal" >Expression level (a.u.)</text>
<text x="452.8" y="235.6" font-size="15" text-anchor="middle" font-weight="normal" >Expression level (a.u.)</text>
<text x="0" y="0" font-size="15" text-anchor="middle" transform="translate(11,118.6) rotate(-90)" >Cell counts (a.u.)</text>
<text x="0" y="0" font-size="15" text-anchor="middle" transform="translate(305.3,119) rotate(-90)" >Cell counts (a.u.)</text>
<text x="139.1" y="49.4" font-size="11.5" text-anchor="end" font-weight="normal" >expression</text>
<text x="139.1" y="62.1" font-size="11.5" text-anchor="end" font-weight="normal" >threshold</text>
<text x="76.1" y="144.6" font-size="11.5" text-anchor="start" font-weight="normal" >viable</text>
<text x="76.1" y="158" font-size="11.5" text-anchor="start" font-weight="normal" >cells</text>
<line x1="99.6" y1="161.2" x2="117.37" y2="178.73" stroke="#000" stroke-width="1.3" />
<path d="M122,183.3 L114.91,180.52 L119.12,176.25 Z" fill="#000" stroke="none"/>
<text x="453" y="49.5" font-size="11.5" text-anchor="start" font-weight="normal" >expression</text>
<text x="453" y="62.5" font-size="11.5" text-anchor="start" font-weight="normal" >threshold</text>
<text x="501" y="145" font-size="11.5" text-anchor="start" font-weight="normal" >inviable</text>
<text x="501" y="157.8" font-size="11.5" text-anchor="start" font-weight="normal" >cells</text>
<line x1="502.25" y1="167.5" x2="485.68" y2="183.49" stroke="#000" stroke-width="1.3" />
<path d="M481,188 L483.95,180.98 L488.12,185.3 Z" fill="#000" stroke="none"/>
<path d="M49.6,266 L50.31,266 L51.01,266 L51.71,266 L52.41,266 L53.11,266 L53.82,266 L54.52,266 L55.22,266 L55.92,266 L56.62,266 L57.33,266 L58.03,266 L58.73,266 L59.43,266 L60.13,266 L60.84,266 L61.54,266 L62.24,266 L62.94,266 L63.64,266 L64.35,266 L65.05,266 L65.75,266 L66.45,266 L67.15,266 L67.86,266 L68.56,266 L69.26,266 L69.96,266 L70.66,266 L71.37,266 L72.07,266 L72.77,266 L73.47,266 L74.17,266 L74.88,266 L75.58,266 L76.28,266 L76.98,266 L77.68,266 L78.39,266 L79.09,266 L79.79,266 L80.49,266 L81.19,266 L81.9,266 L82.6,266 L83.3,266 L84,266 L84.7,266 L85.41,266 L86.11,266 L86.81,266 L87.51,266 L88.21,266 L88.92,266 L89.62,266 L90.32,266 L91.02,266 L91.72,266 L92.43,266 L93.13,266 L93.83,266 L94.53,266 L95.23,266 L95.94,266 L96.64,266 L97.34,266.01 L98.04,266.01 L98.74,266.02 L99.45,266.04 L100.15,266.06 L100.85,266.1 L101.55,266.16 L102.25,266.25 L102.96,266.38 L103.66,266.56 L104.36,266.83 L105.06,267.18 L105.76,267.67 L106.47,268.3 L107.17,269.13 L107.87,270.18 L108.57,271.49 L109.27,273.1 L109.98,275.05 L110.68,277.37 L111.38,280.08 L112.08,283.22 L112.78,286.79 L113.49,290.8 L114.19,295.23 L114.89,300.09 L115.59,305.33 L116.29,310.92 L117,316.81 L117.7,322.95 L118.4,329.27 L119.1,335.72 L119.8,342.23 L120.51,348.73 L121.21,355.15 L121.91,361.45 L122.61,367.55 L123.31,373.43 L124.02,379.03 L124.72,384.32 L125.42,389.28 L126.12,393.89 L126.82,398.15 L127.53,402.05 L128.23,405.6 L128.93,408.8 L129.63,411.66 L130.33,414.21 L131.04,416.47 L131.74,418.46 L132.44,420.19 L133.14,421.69 L133.84,422.99 L134.55,424.1 L135.25,425.05 L135.95,425.85 L136.65,426.53 L137.35,427.1 L138.06,427.58 L138.76,427.98 L139.46,428.3 L140.16,428.57 L140.86,428.79 L141.57,428.97 L142.27,429.12 L142.97,429.24 L143.67,429.34 L144.37,429.41 L145.08,429.47 L145.78,429.52 L146.48,429.56 L147.18,429.59 L147.88,429.62 L148.59,429.63 L149.29,429.65 L149.99,429.66 L150.69,429.67 L151.39,429.68 L152.1,429.68 L152.8,429.69 L153.5,429.69 L154.2,429.69 L154.9,429.69 L155.61,429.7 L156.31,429.7 L157.01,429.7 L157.71,429.7 L158.41,429.7 L159.12,429.7 L159.82,429.7 L160.52,429.7 L161.22,429.7 L161.92,429.7 L162.63,429.7 L163.33,429.7 L164.03,429.7 L164.73,429.7 L165.43,429.7 L166.14,429.7 L166.84,429.7 L167.54,429.7 L168.24,429.7 L168.94,429.7 L169.65,429.7 L170.35,429.7 L171.05,429.7 L171.75,429.7 L172.45,429.7 L173.16,429.7 L173.86,429.7 L174.56,429.7 L175.26,429.7 L175.96,429.7 L176.67,429.7 L177.37,429.7 L178.07,429.7 L178.77,429.7 L179.47,429.7 L180.18,429.7 L180.88,429.7 L181.58,429.7 L182.28,429.7 L182.98,429.7 L183.69,429.7 L184.39,429.7 L185.09,429.7 L185.79,429.7 L186.49,429.7 L187.2,429.7 L187.9,429.7 L188.6,429.7 L189.3,429.7 L190,429.7 L190.7,429.7 L191.41,429.7 L192.11,429.7 L192.81,429.7 L193.51,429.7 L194.21,429.7 L194.92,429.7 L195.62,429.7 L196.32,429.7 L197.02,429.7 L197.72,429.7 L198.43,429.7 L199.13,429.7 L199.83,429.7 L200.53,429.7 L201.23,429.7 L201.94,429.7 L202.64,429.7 L203.34,429.7 L204.04,429.7 L204.74,429.7 L205.45,429.7 L206.15,429.7 L206.85,429.7 L207.55,429.7 L208.25,429.7 L208.96,429.7 L209.66,429.7 L210.36,429.7 L211.06,429.7 L211.76,429.7 L212.47,429.7 L213.17,429.7 L213.87,429.7 L214.57,429.7 L215.27,429.7 L215.98,429.7 L216.68,429.7 L217.38,429.7 L218.08,429.7 L218.78,429.7 L219.49,429.7 L220.19,429.7 L220.89,429.7 L221.59,429.7 L222.29,429.7 L223,429.7 L223.7,429.7 L224.4,429.7 L225.1,429.7 L225.8,429.7 L226.51,429.7 L227.21,429.7 L227.91,429.7 L228.61,429.7 L229.31,429.7 L230.02,429.7 L230.72,429.7 L231.42,429.7 L232.12,429.7 L232.82,429.7 L233.53,429.7 L234.23,429.7 L234.93,429.7 L235.63,429.7 L236.33,429.7 L237.04,429.7 L237.74,429.7 L238.44,429.7 L239.14,429.7 L239.84,429.7 L240.55,429.7 L241.25,429.7 L241.95,429.7 L242.65,429.7 L243.35,429.7 L244.06,429.7 L244.76,429.7 L245.46,429.7 L246.16,429.7 L246.86,429.7 L247.57,429.7 L248.27,429.7 L248.97,429.7 L249.67,429.7 L250.37,429.7 L251.08,429.7 L251.78,429.7 L252.48,429.7 L253.18,429.7 L253.88,429.7 L254.59,429.7 L255.29,429.7 L255.99,429.7 L256.69,429.7 L257.39,429.7 L258.1,429.7 L258.8,429.7 L259.5,429.7" fill="none" stroke="#0000ff" stroke-width="2.6" stroke-linejoin="round" />
<path d="M49.6,266 L50.31,266 L51.01,266 L51.71,266 L52.41,266 L53.11,266 L53.82,266 L54.52,266 L55.22,266 L55.92,266 L56.62,266 L57.33,266 L58.03,266 L58.73,266 L59.43,266 L60.13,266 L60.84,266 L61.54,266 L62.24,266 L62.94,266.01 L63.64,266.01 L64.35,266.02 L65.05,266.03 L65.75,266.04 L66.45,266.06 L67.15,266.09 L67.86,266.13 L68.56,266.19 L69.26,266.25 L69.96,266.34 L70.66,266.45 L71.37,266.58 L72.07,266.74 L72.77,266.93 L73.47,267.15 L74.17,267.41 L74.88,267.72 L75.58,268.07 L76.28,268.47 L76.98,268.92 L77.68,269.42 L78.39,269.98 L79.09,270.6 L79.79,271.28 L80.49,272.03 L81.19,272.83 L81.9,273.71 L82.6,274.64 L83.3,275.65 L84,276.72 L84.7,277.85 L85.41,279.05 L86.11,280.31 L86.81,281.64 L87.51,283.03 L88.21,284.47 L88.92,285.98 L89.62,287.54 L90.32,289.15 L91.02,290.81 L91.72,292.52 L92.43,294.27 L93.13,296.07 L93.83,297.91 L94.53,299.78 L95.23,301.69 L95.94,303.62 L96.64,305.58 L97.34,307.57 L98.04,309.58 L98.74,311.6 L99.45,313.65 L100.15,315.7 L100.85,317.76 L101.55,319.83 L102.25,321.91 L102.96,323.98 L103.66,326.06 L104.36,328.13 L105.06,330.19 L105.76,332.25 L106.47,334.3 L107.17,336.34 L107.87,338.37 L108.57,340.37 L109.27,342.37 L109.98,344.34 L110.68,346.3 L111.38,348.23 L112.08,350.14 L112.78,352.03 L113.49,353.89 L114.19,355.73 L114.89,357.55 L115.59,359.33 L116.29,361.09 L117,362.82 L117.7,364.52 L118.4,366.2 L119.1,367.84 L119.8,369.46 L120.51,371.04 L121.21,372.59 L121.91,374.12 L122.61,375.61 L123.31,377.07 L124.02,378.51 L124.72,379.91 L125.42,381.28 L126.12,382.62 L126.82,383.94 L127.53,385.22 L128.23,386.47 L128.93,387.7 L129.63,388.89 L130.33,390.06 L131.04,391.2 L131.74,392.31 L132.44,393.39 L133.14,394.45 L133.84,395.48 L134.55,396.48 L135.25,397.46 L135.95,398.41 L136.65,399.34 L137.35,400.24 L138.06,401.12 L138.76,401.98 L139.46,402.81 L140.16,403.62 L140.86,404.4 L141.57,405.17 L142.27,405.91 L142.97,406.64 L143.67,407.34 L144.37,408.03 L145.08,408.69 L145.78,409.33 L146.48,409.96 L147.18,410.57 L147.88,411.16 L148.59,411.73 L149.29,412.29 L149.99,412.83 L150.69,413.36 L151.39,413.86 L152.1,414.36 L152.8,414.84 L153.5,415.3 L154.2,415.75 L154.9,416.19 L155.61,416.61 L156.31,417.03 L157.01,417.42 L157.71,417.81 L158.41,418.19 L159.12,418.55 L159.82,418.9 L160.52,419.24 L161.22,419.57 L161.92,419.89 L162.63,420.21 L163.33,420.51 L164.03,420.8 L164.73,421.08 L165.43,421.35 L166.14,421.62 L166.84,421.88 L167.54,422.13 L168.24,422.37 L168.94,422.6 L169.65,422.83 L170.35,423.05 L171.05,423.26 L171.75,423.46 L172.45,423.66 L173.16,423.85 L173.86,424.04 L174.56,424.22 L175.26,424.4 L175.96,424.57 L176.67,424.73 L177.37,424.89 L178.07,425.04 L178.77,425.19 L179.47,425.33 L180.18,425.47 L180.88,425.61 L181.58,425.74 L182.28,425.87 L182.98,425.99 L183.69,426.11 L184.39,426.22 L185.09,426.33 L185.79,426.44 L186.49,426.54 L187.2,426.64 L187.9,426.74 L188.6,426.83 L189.3,426.93 L190,427.01 L190.7,427.1 L191.41,427.18 L192.11,427.26 L192.81,427.34 L193.51,427.41 L194.21,427.49 L194.92,427.56 L195.62,427.63 L196.32,427.69 L197.02,427.75 L197.72,427.82 L198.43,427.88 L199.13,427.93 L199.83,427.99 L200.53,428.04 L201.23,428.1 L201.94,428.15 L202.64,428.2 L203.34,428.24 L204.04,428.29 L204.74,428.33 L205.45,428.38 L206.15,428.42 L206.85,428.46 L207.55,428.5 L208.25,428.54 L208.96,428.57 L209.66,428.61 L210.36,428.64 L211.06,428.67 L211.76,428.71 L212.47,428.74 L213.17,428.77 L213.87,428.8 L214.57,428.83 L215.27,428.85 L215.98,428.88 L216.68,428.9 L217.38,428.93 L218.08,428.95 L218.78,428.98 L219.49,429 L220.19,429.02 L220.89,429.04 L221.59,429.06 L222.29,429.08 L223,429.1 L223.7,429.12 L224.4,429.14 L225.1,429.15 L225.8,429.17 L226.51,429.19 L227.21,429.2 L227.91,429.22 L228.61,429.23 L229.31,429.25 L230.02,429.26 L230.72,429.28 L231.42,429.29 L232.12,429.3 L232.82,429.31 L233.53,429.32 L234.23,429.34 L234.93,429.35 L235.63,429.36 L236.33,429.37 L237.04,429.38 L237.74,429.39 L238.44,429.4 L239.14,429.41 L239.84,429.42 L240.55,429.42 L241.25,429.43 L241.95,429.44 L242.65,429.45 L243.35,429.46 L244.06,429.46 L244.76,429.47 L245.46,429.48 L246.16,429.48 L246.86,429.49 L247.57,429.5 L248.27,429.5 L248.97,429.51 L249.67,429.51 L250.37,429.52 L251.08,429.53 L251.78,429.53 L252.48,429.54 L253.18,429.54 L253.88,429.55 L254.59,429.55 L255.29,429.55 L255.99,429.56 L256.69,429.56 L257.39,429.57 L258.1,429.57 L258.8,429.57 L259.5,429.58" fill="none" stroke="#ff0000" stroke-width="2.6" stroke-linejoin="round" />
<line x1="49.5" y1="265.75" x2="49.5" y2="430.8" stroke="#1a1a1a" stroke-width="1.3" />
<line x1="44.5" y1="430.5" x2="49.5" y2="430.5" stroke="#1a1a1a" stroke-width="1.3" />
<text x="41.3" y="434.5" font-size="11.5" text-anchor="end" font-weight="normal" >0</text>
<line x1="44.5" y1="397.55" x2="49.5" y2="397.55" stroke="#1a1a1a" stroke-width="1.3" />
<text x="41.3" y="401.55" font-size="11.5" text-anchor="end" font-weight="normal" >20</text>
<line x1="44.5" y1="364.6" x2="49.5" y2="364.6" stroke="#1a1a1a" stroke-width="1.3" />
<text x="41.3" y="368.6" font-size="11.5" text-anchor="end" font-weight="normal" >40</text>
<line x1="44.5" y1="331.65" x2="49.5" y2="331.65" stroke="#1a1a1a" stroke-width="1.3" />
<text x="41.3" y="335.65" font-size="11.5" text-anchor="end" font-weight="normal" >60</text>
<line x1="44.5" y1="298.7" x2="49.5" y2="298.7" stroke="#1a1a1a" stroke-width="1.3" />
<text x="41.3" y="302.7" font-size="11.5" text-anchor="end" font-weight="normal" >80</text>
<line x1="44.5" y1="265.75" x2="49.5" y2="265.75" stroke="#1a1a1a" stroke-width="1.3" />
<text x="41.3" y="269.75" font-size="11.5" text-anchor="end" font-weight="normal" >100</text>
<line x1="46.5" y1="414.02" x2="49.5" y2="414.02" stroke="#1a1a1a" stroke-width="1.3" />
<line x1="46.5" y1="381.07" x2="49.5" y2="381.07" stroke="#1a1a1a" stroke-width="1.3" />
<line x1="46.5" y1="348.12" x2="49.5" y2="348.12" stroke="#1a1a1a" stroke-width="1.3" />
<line x1="46.5" y1="315.18" x2="49.5" y2="315.18" stroke="#1a1a1a" stroke-width="1.3" />
<line x1="46.5" y1="282.23" x2="49.5" y2="282.23" stroke="#1a1a1a" stroke-width="1.3" />
<line x1="49.5" y1="430.8" x2="259.5" y2="430.8" stroke="#1a1a1a" stroke-width="1.3" />
<line x1="49.5" y1="430.8" x2="49.5" y2="436.3" stroke="#1a1a1a" stroke-width="1.3" />
<text x="50.2" y="449.1" font-size="11.5" text-anchor="middle" font-weight="normal" >0</text>
<line x1="102" y1="430.8" x2="102" y2="436.3" stroke="#1a1a1a" stroke-width="1.3" />
<text x="102.7" y="449.1" font-size="11.5" text-anchor="middle" font-weight="normal" >5</text>
<line x1="154.5" y1="430.8" x2="154.5" y2="436.3" stroke="#1a1a1a" stroke-width="1.3" />
<text x="155.2" y="449.1" font-size="11.5" text-anchor="middle" font-weight="normal" >10</text>
<line x1="207" y1="430.8" x2="207" y2="436.3" stroke="#1a1a1a" stroke-width="1.3" />
<text x="207.7" y="449.1" font-size="11.5" text-anchor="middle" font-weight="normal" >15</text>
<line x1="259.5" y1="430.8" x2="259.5" y2="436.3" stroke="#1a1a1a" stroke-width="1.3" />
<text x="260.2" y="449.1" font-size="11.5" text-anchor="middle" font-weight="normal" >20</text>
<text x="158.3" y="466.2" font-size="15" text-anchor="middle" font-weight="normal" >Stress level (a.u.)</text>
<text x="0" y="0" font-size="15" text-anchor="middle" transform="translate(14,348) rotate(-90)" >Fitness, <tspan font-style="italic">W</tspan> (%)</text>
<line x1="112" y1="279.5" x2="112" y2="347.3" stroke="#000" stroke-width="1.1" />
<line x1="108" y1="279.5" x2="116" y2="279.5" stroke="#000" stroke-width="1.1" />
<line x1="108" y1="347.3" x2="116" y2="347.3" stroke="#000" stroke-width="1.1" />
<line x1="133" y1="392.5" x2="133" y2="420.5" stroke="#000" stroke-width="1.1" />
<line x1="129" y1="392.5" x2="137" y2="392.5" stroke="#000" stroke-width="1.1" />
<line x1="129" y1="420.5" x2="137" y2="420.5" stroke="#000" stroke-width="1.1" />
<path d="M123,279.5 C132.9,279.5 128.5,282.5 128.5,287.5 L128.5,308.4 C128.5,311.9 131.8,313.4 136.2,313.4 C131.8,313.4 128.5,314.9 128.5,318.4 L128.5,339.3 C128.5,344.3 132.9,347.3 123,347.3" fill="none" stroke="#000" stroke-width="1.25"/>
<path d="M117.5,392.5 C111.65,392.5 114.25,395.5 114.25,400.5 L114.25,401.85 C114.25,405.35 112.3,406.85 109.7,406.85 C112.3,406.85 114.25,408.35 114.25,411.85 L114.25,413.2 C114.25,418.2 111.65,421.2 117.5,421.2" fill="none" stroke="#000" stroke-width="1.25"/>
<text x="139.6" y="317.9" font-size="11.5" text-anchor="start" font-weight="normal" >&#916;<tspan font-style="italic">W</tspan> &lt; 0</text>
<text x="68.7" y="412.2" font-size="11.5" text-anchor="start" font-weight="normal" >&#916;<tspan font-style="italic">W</tspan> &gt; 0</text>
<rect x="181.2" y="365.6" width="79.7" height="37.8" fill="#fff" stroke="#555" stroke-width="1.2"/>
<line x1="189.4" y1="377" x2="211.6" y2="377" stroke="#0000ff" stroke-width="2.6" />
<line x1="189.4" y1="392.9" x2="211.6" y2="392.9" stroke="#ff0000" stroke-width="2.6" />
<text x="217.8" y="380.3" font-size="10.8" text-anchor="start" font-weight="normal" textLength="34.6" lengthAdjust="spacing"><tspan font-style="italic">&#951;</tspan> = 0.1</text>
<text x="217.8" y="396.2" font-size="10.8" text-anchor="start" font-weight="normal" textLength="35.2" lengthAdjust="spacing"><tspan font-style="italic">&#951;</tspan> = 0.4</text>
<path d="M350.11,313 L350.81,313 L351.51,313 L352.21,313 L352.91,313 L353.61,313 L354.32,313 L355.02,313 L355.72,313 L356.42,313 L357.12,313 L357.83,313 L358.53,313 L359.23,313 L359.93,313 L360.63,313 L361.34,313 L362.04,313 L362.74,313 L363.44,313 L364.14,313 L364.85,313 L365.55,313 L366.25,313 L366.95,313 L367.65,313 L368.36,313 L369.06,313 L369.76,313 L370.46,313 L371.16,313 L371.87,313 L372.57,313 L373.27,313 L373.97,313 L374.67,313 L375.38,313 L376.08,313 L376.78,313 L377.48,313 L378.18,313 L378.89,313 L379.59,313 L380.29,313 L380.99,313.01 L381.69,313.01 L382.4,313.02 L383.1,313.03 L383.8,313.04 L384.5,313.06 L385.2,313.08 L385.91,313.12 L386.61,313.17 L387.31,313.23 L388.01,313.32 L388.71,313.43 L389.42,313.57 L390.12,313.75 L390.82,313.98 L391.52,314.26 L392.22,314.6 L392.93,315.01 L393.63,315.5 L394.33,316.09 L395.03,316.78 L395.73,317.58 L396.44,318.5 L397.14,319.56 L397.84,320.77 L398.54,322.13 L399.24,323.65 L399.95,325.33 L400.65,327.18 L401.35,329.2 L402.05,331.38 L402.75,333.72 L403.46,336.19 L404.16,338.77 L404.86,341.45 L405.56,344.18 L406.26,346.92 L406.97,349.62 L407.67,352.22 L408.37,354.66 L409.07,356.89 L409.77,358.82 L410.48,360.4 L411.18,361.57 L411.88,362.27 L412.58,362.45 L413.28,362.09 L413.99,361.15 L414.69,359.64 L415.39,357.56 L416.09,354.94 L416.79,351.82 L417.5,348.26 L418.2,344.31 L418.9,340.05 L419.6,335.56 L420.3,330.93 L421.01,326.24 L421.71,321.58 L422.41,317.01 L423.11,312.61 L423.81,308.45 L424.52,304.57 L425.22,301.01 L425.92,297.81 L426.62,294.99 L427.32,292.55 L428.03,290.5 L428.73,288.82 L429.43,287.52 L430.13,286.56 L430.83,285.92 L431.54,285.58 L432.24,285.5 L432.94,285.65 L433.64,286.01 L434.34,286.55 L435.05,287.23 L435.75,288.03 L436.45,288.92 L437.15,289.88 L437.85,290.9 L438.56,291.95 L439.26,293.01 L439.96,294.08 L440.66,295.14 L441.36,296.18 L442.07,297.2 L442.77,298.19 L443.47,299.14 L444.17,300.06 L444.87,300.93 L445.58,301.76 L446.28,302.55 L446.98,303.29 L447.68,304 L448.38,304.66 L449.09,305.28 L449.79,305.86 L450.49,306.4 L451.19,306.9 L451.89,307.37 L452.6,307.81 L453.3,308.22 L454,308.6 L454.7,308.95 L455.4,309.27 L456.11,309.57 L456.81,309.85 L457.51,310.11 L458.21,310.35 L458.91,310.56 L459.62,310.77 L460.32,310.95 L461.02,311.12 L461.72,311.28 L462.42,311.43 L463.13,311.56 L463.83,311.68 L464.53,311.79 L465.23,311.9 L465.93,311.99 L466.64,312.08 L467.34,312.16 L468.04,312.23 L468.74,312.3 L469.44,312.36 L470.15,312.42 L470.85,312.47 L471.55,312.51 L472.25,312.56 L472.95,312.6 L473.66,312.63 L474.36,312.66 L475.06,312.69 L475.76,312.72 L476.46,312.75 L477.17,312.77 L477.87,312.79 L478.57,312.81 L479.27,312.83 L479.97,312.84 L480.68,312.86 L481.38,312.87 L482.08,312.88 L482.78,312.89 L483.48,312.9 L484.19,312.91 L484.89,312.92 L485.59,312.93 L486.29,312.93 L486.99,312.94 L487.7,312.94 L488.4,312.95 L489.1,312.95 L489.8,312.96 L490.5,312.96 L491.2,312.97 L491.91,312.97 L492.61,312.97 L493.31,312.97 L494.01,312.98 L494.71,312.98 L495.42,312.98 L496.12,312.98 L496.82,312.98 L497.52,312.99 L498.22,312.99 L498.93,312.99 L499.63,312.99 L500.33,312.99 L501.03,312.99 L501.73,312.99 L502.44,312.99 L503.14,312.99 L503.84,312.99 L504.54,312.99 L505.24,313 L505.95,313 L506.65,313 L507.35,313 L508.05,313 L508.75,313 L509.46,313 L510.16,313 L510.86,313 L511.56,313 L512.26,313 L512.97,313 L513.67,313 L514.37,313 L515.07,313 L515.77,313 L516.48,313 L517.18,313 L517.88,313 L518.58,313 L519.28,313 L519.99,313 L520.69,313 L521.39,313 L522.09,313 L522.79,313 L523.5,313 L524.2,313 L524.9,313 L525.6,313 L526.3,313 L527.01,313 L527.71,313 L528.41,313 L529.11,313 L529.81,313 L530.52,313 L531.22,313 L531.92,313 L532.62,313 L533.32,313 L534.03,313 L534.73,313 L535.43,313 L536.13,313 L536.83,313 L537.54,313 L538.24,313 L538.94,313 L539.64,313 L540.34,313 L541.05,313 L541.75,313 L542.45,313 L543.15,313 L543.85,313 L544.56,313 L545.26,313 L545.96,313 L546.66,313 L547.36,313 L548.07,313 L548.77,313 L549.47,313 L550.17,313 L550.87,313 L551.58,313 L552.28,313 L552.98,313 L553.68,313 L554.38,313 L555.09,313 L555.79,313 L556.49,313 L557.19,313 L557.89,313 L558.6,313 L559.3,313 L560,313" fill="none" stroke="#0000ff" stroke-width="2.6" stroke-linejoin="round" />
<path d="M350.11,313 L350.81,313 L351.51,313 L352.21,313 L352.91,313 L353.61,313 L354.32,313 L355.02,313 L355.72,313 L356.42,313 L357.12,313 L357.83,313 L358.53,313 L359.23,313 L359.93,313 L360.63,313 L361.34,313 L362.04,313 L362.74,313 L363.44,313 L364.14,313 L364.85,313 L365.55,313 L366.25,313 L366.95,313 L367.65,313 L368.36,313 L369.06,313 L369.76,313.01 L370.46,313.01 L371.16,313.01 L371.87,313.02 L372.57,313.03 L373.27,313.05 L373.97,313.07 L374.67,313.1 L375.38,313.14 L376.08,313.19 L376.78,313.26 L377.48,313.35 L378.18,313.46 L378.89,313.6 L379.59,313.78 L380.29,313.99 L380.99,314.24 L381.69,314.54 L382.4,314.89 L383.1,315.3 L383.8,315.78 L384.5,316.33 L385.2,316.96 L385.91,317.67 L386.61,318.47 L387.31,319.36 L388.01,320.36 L388.71,321.45 L389.42,322.65 L390.12,323.97 L390.82,325.39 L391.52,326.93 L392.22,328.59 L392.93,330.37 L393.63,332.26 L394.33,334.27 L395.03,336.4 L395.73,338.64 L396.44,341 L397.14,343.46 L397.84,346.03 L398.54,348.7 L399.24,351.46 L399.95,354.31 L400.65,357.24 L401.35,360.23 L402.05,363.27 L402.75,366.33 L403.46,369.41 L404.16,372.46 L404.86,375.46 L405.56,378.37 L406.26,381.13 L406.97,383.71 L407.67,386.05 L408.37,388.09 L409.07,389.76 L409.77,391.02 L410.48,391.79 L411.18,392.02 L411.88,391.67 L412.58,390.71 L413.28,389.1 L413.99,386.83 L414.69,383.92 L415.39,380.38 L416.09,376.25 L416.79,371.57 L417.5,366.41 L418.2,360.86 L418.9,354.98 L419.6,348.88 L420.3,342.64 L421.01,336.35 L421.71,330.11 L422.41,324.01 L423.11,318.11 L423.81,312.49 L424.52,307.2 L425.22,302.29 L425.92,297.79 L426.62,293.73 L427.32,290.11 L428.03,286.95 L428.73,284.24 L429.43,281.96 L430.13,280.09 L430.83,278.61 L431.54,277.5 L432.24,276.71 L432.94,276.23 L433.64,276.01 L434.34,276.03 L435.05,276.26 L435.75,276.66 L436.45,277.21 L437.15,277.88 L437.85,278.66 L438.56,279.52 L439.26,280.44 L439.96,281.41 L440.66,282.4 L441.36,283.42 L442.07,284.45 L442.77,285.48 L443.47,286.51 L444.17,287.52 L444.87,288.51 L445.58,289.49 L446.28,290.44 L446.98,291.37 L447.68,292.27 L448.38,293.15 L449.09,293.99 L449.79,294.81 L450.49,295.59 L451.19,296.35 L451.89,297.08 L452.6,297.78 L453.3,298.46 L454,299.1 L454.7,299.72 L455.4,300.32 L456.11,300.89 L456.81,301.44 L457.51,301.96 L458.21,302.46 L458.91,302.94 L459.62,303.4 L460.32,303.84 L461.02,304.26 L461.72,304.66 L462.42,305.05 L463.13,305.42 L463.83,305.77 L464.53,306.1 L465.23,306.42 L465.93,306.73 L466.64,307.02 L467.34,307.3 L468.04,307.57 L468.74,307.82 L469.44,308.07 L470.15,308.3 L470.85,308.52 L471.55,308.73 L472.25,308.93 L472.95,309.13 L473.66,309.31 L474.36,309.48 L475.06,309.65 L475.76,309.81 L476.46,309.96 L477.17,310.11 L477.87,310.24 L478.57,310.38 L479.27,310.5 L479.97,310.62 L480.68,310.73 L481.38,310.84 L482.08,310.95 L482.78,311.04 L483.48,311.14 L484.19,311.23 L484.89,311.31 L485.59,311.39 L486.29,311.47 L486.99,311.54 L487.7,311.61 L488.4,311.68 L489.1,311.74 L489.8,311.81 L490.5,311.86 L491.2,311.92 L491.91,311.97 L492.61,312.02 L493.31,312.07 L494.01,312.11 L494.71,312.16 L495.42,312.2 L496.12,312.23 L496.82,312.27 L497.52,312.31 L498.22,312.34 L498.93,312.37 L499.63,312.4 L500.33,312.43 L501.03,312.46 L501.73,312.49 L502.44,312.51 L503.14,312.53 L503.84,312.56 L504.54,312.58 L505.24,312.6 L505.95,312.62 L506.65,312.64 L507.35,312.65 L508.05,312.67 L508.75,312.69 L509.46,312.7 L510.16,312.72 L510.86,312.73 L511.56,312.74 L512.26,312.76 L512.97,312.77 L513.67,312.78 L514.37,312.79 L515.07,312.8 L515.77,312.81 L516.48,312.82 L517.18,312.83 L517.88,312.84 L518.58,312.84 L519.28,312.85 L519.99,312.86 L520.69,312.86 L521.39,312.87 L522.09,312.88 L522.79,312.88 L523.5,312.89 L524.2,312.89 L524.9,312.9 L525.6,312.9 L526.3,312.91 L527.01,312.91 L527.71,312.92 L528.41,312.92 L529.11,312.92 L529.81,312.93 L530.52,312.93 L531.22,312.94 L531.92,312.94 L532.62,312.94 L533.32,312.94 L534.03,312.95 L534.73,312.95 L535.43,312.95 L536.13,312.95 L536.83,312.96 L537.54,312.96 L538.24,312.96 L538.94,312.96 L539.64,312.96 L540.34,312.97 L541.05,312.97 L541.75,312.97 L542.45,312.97 L543.15,312.97 L543.85,312.97 L544.56,312.97 L545.26,312.98 L545.96,312.98 L546.66,312.98 L547.36,312.98 L548.07,312.98 L548.77,312.98 L549.47,312.98 L550.17,312.98 L550.87,312.98 L551.58,312.98 L552.28,312.98 L552.98,312.99 L553.68,312.99 L554.38,312.99 L555.09,312.99 L555.79,312.99 L556.49,312.99 L557.19,312.99 L557.89,312.99 L558.6,312.99 L559.3,312.99 L560,312.99" fill="none" stroke="#10c810" stroke-width="2.6" stroke-linejoin="round" />
<path d="M350.11,313 L350.81,313 L351.51,313 L352.21,313 L352.91,313 L353.61,313 L354.32,313 L355.02,313 L355.72,313 L356.42,313 L357.12,313 L357.83,313 L358.53,313 L359.23,313 L359.93,313 L360.63,313 L361.34,313 L362.04,313 L362.74,313 L363.44,313.01 L364.14,313.02 L364.85,313.03 L365.55,313.04 L366.25,313.06 L366.95,313.09 L367.65,313.14 L368.36,313.19 L369.06,313.27 L369.76,313.37 L370.46,313.49 L371.16,313.64 L371.87,313.83 L372.57,314.06 L373.27,314.34 L373.97,314.66 L374.67,315.04 L375.38,315.48 L376.08,315.99 L376.78,316.56 L377.48,317.21 L378.18,317.94 L378.89,318.75 L379.59,319.64 L380.29,320.62 L380.99,321.7 L381.69,322.86 L382.4,324.12 L383.1,325.47 L383.8,326.92 L384.5,328.46 L385.2,330.1 L385.91,331.83 L386.61,333.66 L387.31,335.57 L388.01,337.57 L388.71,339.66 L389.42,341.83 L390.12,344.08 L390.82,346.41 L391.52,348.81 L392.22,351.27 L392.93,353.81 L393.63,356.4 L394.33,359.05 L395.03,361.75 L395.73,364.5 L396.44,367.29 L397.14,370.12 L397.84,372.99 L398.54,375.88 L399.24,378.79 L399.95,381.71 L400.65,384.64 L401.35,387.56 L402.05,390.46 L402.75,393.33 L403.46,396.13 L404.16,398.86 L404.86,401.47 L405.56,403.94 L406.26,406.21 L406.97,408.25 L407.67,410 L408.37,411.41 L409.07,412.41 L409.77,412.96 L410.48,413 L411.18,412.48 L411.88,411.35 L412.58,409.58 L413.28,407.16 L413.99,404.06 L414.69,400.31 L415.39,395.92 L416.09,390.94 L416.79,385.41 L417.5,379.41 L418.2,373 L418.9,366.29 L419.6,359.35 L420.3,352.29 L421.01,345.2 L421.71,338.17 L422.41,331.29 L423.11,324.63 L423.81,318.26 L424.52,312.25 L425.22,306.64 L425.92,301.46 L426.62,296.73 L427.32,292.48 L428.03,288.71 L428.73,285.4 L429.43,282.55 L430.13,280.14 L430.83,278.14 L431.54,276.53 L432.24,275.27 L432.94,274.33 L433.64,273.69 L434.34,273.3 L435.05,273.14 L435.75,273.18 L436.45,273.4 L437.15,273.75 L437.85,274.23 L438.56,274.81 L439.26,275.48 L439.96,276.21 L440.66,276.98 L441.36,277.8 L442.07,278.65 L442.77,279.51 L443.47,280.38 L444.17,281.26 L444.87,282.13 L445.58,283 L446.28,283.86 L446.98,284.71 L447.68,285.55 L448.38,286.36 L449.09,287.16 L449.79,287.95 L450.49,288.71 L451.19,289.45 L451.89,290.18 L452.6,290.88 L453.3,291.57 L454,292.24 L454.7,292.88 L455.4,293.51 L456.11,294.12 L456.81,294.71 L457.51,295.29 L458.21,295.85 L458.91,296.39 L459.62,296.91 L460.32,297.42 L461.02,297.91 L461.72,298.39 L462.42,298.85 L463.13,299.3 L463.83,299.73 L464.53,300.15 L465.23,300.56 L465.93,300.96 L466.64,301.34 L467.34,301.71 L468.04,302.07 L468.74,302.42 L469.44,302.75 L470.15,303.08 L470.85,303.4 L471.55,303.7 L472.25,304 L472.95,304.29 L473.66,304.56 L474.36,304.83 L475.06,305.09 L475.76,305.35 L476.46,305.59 L477.17,305.83 L477.87,306.06 L478.57,306.28 L479.27,306.49 L479.97,306.7 L480.68,306.9 L481.38,307.09 L482.08,307.28 L482.78,307.47 L483.48,307.64 L484.19,307.81 L484.89,307.98 L485.59,308.14 L486.29,308.29 L486.99,308.44 L487.7,308.59 L488.4,308.73 L489.1,308.87 L489.8,309 L490.5,309.12 L491.2,309.25 L491.91,309.37 L492.61,309.48 L493.31,309.59 L494.01,309.7 L494.71,309.81 L495.42,309.91 L496.12,310.01 L496.82,310.1 L497.52,310.19 L498.22,310.28 L498.93,310.37 L499.63,310.45 L500.33,310.53 L501.03,310.61 L501.73,310.69 L502.44,310.76 L503.14,310.83 L503.84,310.9 L504.54,310.96 L505.24,311.03 L505.95,311.09 L506.65,311.15 L507.35,311.21 L508.05,311.26 L508.75,311.32 L509.46,311.37 L510.16,311.42 L510.86,311.47 L511.56,311.52 L512.26,311.57 L512.97,311.61 L513.67,311.65 L514.37,311.7 L515.07,311.74 L515.77,311.78 L516.48,311.81 L517.18,311.85 L517.88,311.89 L518.58,311.92 L519.28,311.96 L519.99,311.99 L520.69,312.02 L521.39,312.05 L522.09,312.08 L522.79,312.11 L523.5,312.14 L524.2,312.16 L524.9,312.19 L525.6,312.21 L526.3,312.24 L527.01,312.26 L527.71,312.28 L528.41,312.31 L529.11,312.33 L529.81,312.35 L530.52,312.37 L531.22,312.39 L531.92,312.41 L532.62,312.42 L533.32,312.44 L534.03,312.46 L534.73,312.47 L535.43,312.49 L536.13,312.51 L536.83,312.52 L537.54,312.54 L538.24,312.55 L538.94,312.56 L539.64,312.58 L540.34,312.59 L541.05,312.6 L541.75,312.61 L542.45,312.63 L543.15,312.64 L543.85,312.65 L544.56,312.66 L545.26,312.67 L545.96,312.68 L546.66,312.69 L547.36,312.7 L548.07,312.71 L548.77,312.72 L549.47,312.72 L550.17,312.73 L550.87,312.74 L551.58,312.75 L552.28,312.76 L552.98,312.76 L553.68,312.77 L554.38,312.78 L555.09,312.78 L555.79,312.79 L556.49,312.8 L557.19,312.8 L557.89,312.81 L558.6,312.81 L559.3,312.82 L560,312.82" fill="none" stroke="#ff0000" stroke-width="2.6" stroke-linejoin="round" />
<line x1="349.5" y1="265.75" x2="349.5" y2="430.8" stroke="#1a1a1a" stroke-width="1.3" />
<line x1="344.5" y1="265.75" x2="349.5" y2="265.75" stroke="#1a1a1a" stroke-width="1.3" />
<text x="341.2" y="269.75" font-size="11.5" text-anchor="end" font-weight="normal" >0.2</text>
<line x1="344.5" y1="313" x2="349.5" y2="313" stroke="#1a1a1a" stroke-width="1.3" />
<text x="341.2" y="317" font-size="11.5" text-anchor="end" font-weight="normal" >0.0</text>
<line x1="344.5" y1="360.25" x2="349.5" y2="360.25" stroke="#1a1a1a" stroke-width="1.3" />
<text x="341.2" y="364.25" font-size="11.5" text-anchor="end" font-weight="normal" >-0.2</text>
<line x1="344.5" y1="407.5" x2="349.5" y2="407.5" stroke="#1a1a1a" stroke-width="1.3" />
<text x="341.2" y="411.5" font-size="11.5" text-anchor="end" font-weight="normal" >-0.4</text>
<line x1="349.5" y1="430.5" x2="560.5" y2="430.5" stroke="#1a1a1a" stroke-width="1.3" />
<line x1="350" y1="430.5" x2="350" y2="436" stroke="#1a1a1a" stroke-width="1.3" />
<text x="350.7" y="448.8" font-size="11.5" text-anchor="middle" font-weight="normal" >0</text>
<line x1="402.5" y1="430.5" x2="402.5" y2="436" stroke="#1a1a1a" stroke-width="1.3" />
<text x="403.2" y="448.8" font-size="11.5" text-anchor="middle" font-weight="normal" >5</text>
<line x1="455" y1="430.5" x2="455" y2="436" stroke="#1a1a1a" stroke-width="1.3" />
<text x="455.7" y="448.8" font-size="11.5" text-anchor="middle" font-weight="normal" >10</text>
<line x1="507.5" y1="430.5" x2="507.5" y2="436" stroke="#1a1a1a" stroke-width="1.3" />
<text x="508.2" y="448.8" font-size="11.5" text-anchor="middle" font-weight="normal" >15</text>
<line x1="560" y1="430.5" x2="560" y2="436" stroke="#1a1a1a" stroke-width="1.3" />
<text x="560.7" y="448.8" font-size="11.5" text-anchor="middle" font-weight="normal" >20</text>
<text x="457.4" y="465.8" font-size="15" text-anchor="middle" font-weight="normal" >Stress level (a.u.)</text>
<text x="0" y="0" font-size="15" text-anchor="middle" transform="translate(311.2,353) rotate(-90)" >differential fitness, &#916;<tspan font-style="italic">W</tspan> (%)</text>
<rect x="481.3" y="347.5" width="79.1" height="55.7" fill="#fff" stroke="#555" stroke-width="1.2"/>
<line x1="488.9" y1="358.9" x2="511.3" y2="358.9" stroke="#0000ff" stroke-width="2.6" />
<text x="517.6" y="362.5" font-size="10.8" text-anchor="start" font-weight="normal" textLength="35.6" lengthAdjust="spacing"><tspan font-style="italic">&#951;</tspan> = 0.2</text>
<line x1="488.9" y1="375.3" x2="511.3" y2="375.3" stroke="#10c810" stroke-width="2.6" />
<text x="517.6" y="378.9" font-size="10.8" text-anchor="start" font-weight="normal" textLength="35.6" lengthAdjust="spacing"><tspan font-style="italic">&#951;</tspan> = 0.3</text>
<line x1="488.9" y1="391.8" x2="511.3" y2="391.8" stroke="#ff0000" stroke-width="2.6" />
<text x="517.6" y="395.4" font-size="10.8" text-anchor="start" font-weight="normal" textLength="35.6" lengthAdjust="spacing"><tspan font-style="italic">&#951;</tspan> = 0.4</text>
<path d="M55,676.9 L55.82,676.9 L56.63,676.9 L57.45,676.9 L58.26,676.9 L59.08,676.9 L59.89,676.9 L60.71,676.9 L61.52,676.9 L62.34,676.9 L63.15,676.9 L63.97,676.9 L64.79,676.9 L65.6,676.9 L66.42,676.9 L67.23,676.9 L68.05,676.9 L68.86,676.9 L69.68,676.9 L70.49,676.9 L71.31,676.9 L72.12,676.9 L72.94,676.9 L73.76,676.9 L74.57,676.9 L75.39,676.9 L76.2,676.9 L77.02,676.9 L77.83,676.9 L78.65,676.9 L79.46,676.9 L80.28,676.9 L81.09,676.9 L81.91,676.9 L82.73,676.9 L83.54,676.9 L84.36,676.9 L85.17,676.9 L85.99,676.9 L86.8,676.9 L87.62,676.9 L88.43,676.9 L89.25,676.9 L90.06,676.9 L90.88,676.9 L91.69,676.9 L92.51,676.9 L93.33,676.9 L94.14,676.9 L94.96,676.9 L95.77,676.9 L96.59,676.9 L97.4,676.9 L98.22,676.9 L99.03,676.89 L99.85,676.89 L100.66,676.89 L101.48,676.89 L102.3,676.89 L103.11,676.89 L103.93,676.88 L104.74,676.88 L105.56,676.87 L106.37,676.87 L107.19,676.86 L108,676.86 L108.82,676.85 L109.63,676.84 L110.45,676.82 L111.27,676.81 L112.08,676.79 L112.9,676.77 L113.71,676.75 L114.53,676.72 L115.34,676.69 L116.16,676.65 L116.97,676.6 L117.79,676.55 L118.6,676.49 L119.42,676.43 L120.24,676.35 L121.05,676.26 L121.87,676.16 L122.68,676.04 L123.5,675.91 L124.31,675.76 L125.13,675.6 L125.94,675.41 L126.76,675.19 L127.57,674.95 L128.39,674.68 L129.21,674.38 L130.02,674.04 L130.84,673.67 L131.65,673.26 L132.47,672.8 L133.28,672.29 L134.1,671.74 L134.91,671.13 L135.73,670.46 L136.54,669.73 L137.36,668.94 L138.18,668.08 L138.99,667.14 L139.81,666.14 L140.62,665.05 L141.44,663.88 L142.25,662.63 L143.07,661.3 L143.88,659.87 L144.7,658.36 L145.51,656.76 L146.33,655.07 L147.15,653.29 L147.96,651.43 L148.78,649.47 L149.59,647.43 L150.41,645.31 L151.22,643.11 L152.04,640.84 L152.85,638.51 L153.67,636.11 L154.48,633.66 L155.3,631.16 L156.12,628.62 L156.93,626.06 L157.75,623.48 L158.56,620.9 L159.38,618.32 L160.19,615.76 L161.01,613.22 L161.82,610.73 L162.64,608.29 L163.45,605.93 L164.27,603.64 L165.08,601.45 L165.9,599.36 L166.72,597.4 L167.53,595.56 L168.35,593.87 L169.16,592.33 L169.98,590.95 L170.79,589.74 L171.61,588.72 L172.42,587.88 L173.24,587.23 L174.05,586.77 L174.87,586.52 L175.69,586.46 L176.5,586.61 L177.32,586.95 L178.13,587.5 L178.95,588.24 L179.76,589.16 L180.58,590.27 L181.39,591.56 L182.21,593.01 L183.02,594.62 L183.84,596.38 L184.66,598.28 L185.47,600.3 L186.29,602.43 L187.1,604.67 L187.92,607 L188.73,609.4 L189.55,611.86 L190.36,614.37 L191.18,616.92 L191.99,619.49 L192.81,622.08 L193.63,624.66 L194.44,627.23 L195.26,629.78 L196.07,632.3 L196.89,634.78 L197.7,637.21 L198.52,639.58 L199.33,641.89 L200.15,644.12 L200.96,646.29 L201.78,648.37 L202.6,650.37 L203.41,652.29 L204.23,654.11 L205.04,655.85 L205.86,657.5 L206.67,659.06 L207.49,660.53 L208.3,661.92 L209.12,663.21 L209.93,664.42 L210.75,665.55 L211.57,666.6 L212.38,667.58 L213.2,668.48 L214.01,669.31 L214.83,670.07 L215.64,670.77 L216.46,671.41 L217.27,672 L218.09,672.53 L218.9,673.01 L219.72,673.45 L220.54,673.85 L221.35,674.2 L222.17,674.52 L222.98,674.81 L223.8,675.06 L224.61,675.29 L225.43,675.49 L226.24,675.67 L227.06,675.83 L227.87,675.97 L228.69,676.1 L229.51,676.21 L230.32,676.3 L231.14,676.39 L231.95,676.46 L232.77,676.52 L233.58,676.58 L234.4,676.62 L235.21,676.67 L236.03,676.7 L236.84,676.73 L237.66,676.76 L238.47,676.78 L239.29,676.8 L240.11,676.82 L240.92,676.83 L241.74,676.84 L242.55,676.85 L243.37,676.86 L244.18,676.87 L245,676.87 L245.81,676.88 L246.63,676.88 L247.44,676.88 L248.26,676.89 L249.08,676.89 L249.89,676.89 L250.71,676.89 L251.52,676.89 L252.34,676.9 L253.15,676.9 L253.97,676.9 L254.78,676.9 L255.6,676.9 L256.41,676.9 L257.23,676.9 L258.05,676.9 L258.86,676.9 L259.68,676.9 L260.49,676.9 L261.31,676.9 L262.12,676.9 L262.94,676.9 L263.75,676.9 L264.57,676.9 L265.38,676.9 L266.2,676.9" fill="none" stroke="#40f0a0" stroke-width="2.6" stroke-linejoin="round" />
<path d="M55,676.9 L55.82,676.9 L56.63,676.9 L57.45,676.9 L58.26,676.9 L59.08,676.9 L59.89,676.9 L60.71,676.9 L61.52,676.9 L62.34,676.9 L63.15,676.9 L63.97,676.9 L64.79,676.9 L65.6,676.9 L66.42,676.9 L67.23,676.9 L68.05,676.9 L68.86,676.9 L69.68,676.9 L70.49,676.9 L71.31,676.9 L72.12,676.9 L72.94,676.9 L73.76,676.9 L74.57,676.9 L75.39,676.9 L76.2,676.9 L77.02,676.89 L77.83,676.89 L78.65,676.89 L79.46,676.89 L80.28,676.89 L81.09,676.89 L81.91,676.89 L82.73,676.88 L83.54,676.88 L84.36,676.88 L85.17,676.87 L85.99,676.87 L86.8,676.86 L87.62,676.86 L88.43,676.85 L89.25,676.84 L90.06,676.83 L90.88,676.82 L91.69,676.81 L92.51,676.79 L93.33,676.78 L94.14,676.76 L94.96,676.74 L95.77,676.72 L96.59,676.69 L97.4,676.66 L98.22,676.63 L99.03,676.6 L99.85,676.55 L100.66,676.51 L101.48,676.46 L102.3,676.4 L103.11,676.34 L103.93,676.26 L104.74,676.18 L105.56,676.09 L106.37,675.99 L107.19,675.87 L108,675.74 L108.82,675.59 L109.63,675.43 L110.45,675.24 L111.27,675.03 L112.08,674.8 L112.9,674.53 L113.71,674.23 L114.53,673.9 L115.34,673.52 L116.16,673.1 L116.97,672.63 L117.79,672.11 L118.6,671.53 L119.42,670.89 L120.24,670.18 L121.05,669.41 L121.87,668.56 L122.68,667.64 L123.5,666.64 L124.31,665.57 L125.13,664.42 L125.94,663.2 L126.76,661.91 L127.57,660.56 L128.39,659.14 L129.21,657.67 L130.02,656.15 L130.84,654.59 L131.65,653.01 L132.47,651.41 L133.28,649.81 L134.1,648.22 L134.91,646.64 L135.73,645.1 L136.54,643.6 L137.36,642.15 L138.18,640.76 L138.99,639.44 L139.81,638.19 L140.62,637.02 L141.44,635.93 L142.25,634.95 L143.07,634.08 L143.88,633.32 L144.7,632.66 L145.51,632.09 L146.33,631.6 L147.15,631.16 L147.96,630.76 L148.78,630.39 L149.59,630.02 L150.41,629.65 L151.22,629.24 L152.04,628.79 L152.85,628.28 L153.67,627.71 L154.48,627.07 L155.3,626.34 L156.12,625.53 L156.93,624.64 L157.75,623.67 L158.56,622.62 L159.38,621.5 L160.19,620.32 L161.01,619.1 L161.82,617.83 L162.64,616.55 L163.45,615.25 L164.27,613.95 L165.08,612.68 L165.9,611.43 L166.72,610.23 L167.53,609.1 L168.35,608.03 L169.16,607.05 L169.98,606.16 L170.79,605.37 L171.61,604.7 L172.42,604.15 L173.24,603.73 L174.05,603.44 L174.87,603.29 L175.69,603.28 L176.5,603.4 L177.32,603.67 L178.13,604.08 L178.95,604.63 L179.76,605.32 L180.58,606.14 L181.39,607.09 L182.21,608.16 L183.02,609.35 L183.84,610.65 L184.66,612.06 L185.47,613.56 L186.29,615.15 L187.1,616.82 L187.92,618.57 L188.73,620.37 L189.55,622.23 L190.36,624.13 L191.18,626.07 L191.99,628.04 L192.81,630.02 L193.63,632.01 L194.44,634.01 L195.26,635.99 L196.07,637.97 L196.89,639.92 L197.7,641.84 L198.52,643.73 L199.33,645.58 L200.15,647.39 L200.96,649.15 L201.78,650.85 L202.6,652.5 L203.41,654.09 L204.23,655.62 L205.04,657.09 L205.86,658.49 L206.67,659.83 L207.49,661.1 L208.3,662.3 L209.12,663.45 L209.93,664.52 L210.75,665.54 L211.57,666.49 L212.38,667.38 L213.2,668.21 L214.01,668.98 L214.83,669.7 L215.64,670.37 L216.46,670.99 L217.27,671.56 L218.09,672.08 L218.9,672.57 L219.72,673.01 L220.54,673.41 L221.35,673.78 L222.17,674.11 L222.98,674.42 L223.8,674.69 L224.61,674.94 L225.43,675.16 L226.24,675.37 L227.06,675.55 L227.87,675.71 L228.69,675.85 L229.51,675.98 L230.32,676.1 L231.14,676.2 L231.95,676.29 L232.77,676.37 L233.58,676.44 L234.4,676.5 L235.21,676.55 L236.03,676.6 L236.84,676.64 L237.66,676.68 L238.47,676.71 L239.29,676.74 L240.11,676.76 L240.92,676.78 L241.74,676.8 L242.55,676.81 L243.37,676.83 L244.18,676.84 L245,676.85 L245.81,676.86 L246.63,676.86 L247.44,676.87 L248.26,676.87 L249.08,676.88 L249.89,676.88 L250.71,676.89 L251.52,676.89 L252.34,676.89 L253.15,676.89 L253.97,676.89 L254.78,676.89 L255.6,676.9 L256.41,676.9 L257.23,676.9 L258.05,676.9 L258.86,676.9 L259.68,676.9 L260.49,676.9 L261.31,676.9 L262.12,676.9 L262.94,676.9 L263.75,676.9 L264.57,676.9 L265.38,676.9 L266.2,676.9" fill="none" stroke="#0000ff" stroke-width="2.6" stroke-linejoin="round" />
<path d="M55,676.9 L55.82,676.9 L56.63,676.9 L57.45,676.9 L58.26,676.9 L59.08,676.9 L59.89,676.9 L60.71,676.9 L61.52,676.9 L62.34,676.9 L63.15,676.9 L63.97,676.9 L64.79,676.9 L65.6,676.9 L66.42,676.9 L67.23,676.9 L68.05,676.9 L68.86,676.9 L69.68,676.9 L70.49,676.9 L71.31,676.9 L72.12,676.9 L72.94,676.9 L73.76,676.9 L74.57,676.9 L75.39,676.9 L76.2,676.9 L77.02,676.9 L77.83,676.9 L78.65,676.9 L79.46,676.9 L80.28,676.9 L81.09,676.9 L81.91,676.9 L82.73,676.9 L83.54,676.9 L84.36,676.9 L85.17,676.9 L85.99,676.89 L86.8,676.89 L87.62,676.89 L88.43,676.89 L89.25,676.88 L90.06,676.88 L90.88,676.87 L91.69,676.87 L92.51,676.86 L93.33,676.85 L94.14,676.83 L94.96,676.82 L95.77,676.8 L96.59,676.78 L97.4,676.75 L98.22,676.71 L99.03,676.67 L99.85,676.62 L100.66,676.57 L101.48,676.5 L102.3,676.42 L103.11,676.32 L103.93,676.21 L104.74,676.08 L105.56,675.93 L106.37,675.75 L107.19,675.54 L108,675.3 L108.82,675.02 L109.63,674.69 L110.45,674.3 L111.27,673.86 L112.08,673.33 L112.9,672.72 L113.71,672 L114.53,671.16 L115.34,670.18 L116.16,669.02 L116.97,667.68 L117.79,666.12 L118.6,664.31 L119.42,662.23 L120.24,659.86 L121.05,657.17 L121.87,654.14 L122.68,650.77 L123.5,647.05 L124.31,643 L125.13,638.65 L125.94,634.02 L126.76,629.18 L127.57,624.2 L128.39,619.15 L129.21,614.13 L130.02,609.25 L130.84,604.61 L131.65,600.33 L132.47,596.5 L133.28,593.23 L134.1,590.61 L134.91,588.69 L135.73,587.54 L136.54,587.13 L137.36,587.31 L138.18,588.05 L138.99,589.33 L139.81,591.09 L140.62,593.3 L141.44,595.9 L142.25,598.82 L143.07,601.99 L143.88,605.36 L144.7,608.83 L145.51,612.35 L146.33,615.85 L147.15,619.27 L147.96,622.56 L148.78,625.66 L149.59,628.55 L150.41,631.18 L151.22,633.54 L152.04,635.62 L152.85,637.4 L153.67,638.89 L154.48,640.09 L155.3,641.01 L156.12,641.68 L156.93,642.11 L157.75,642.31 L158.56,642.33 L159.38,642.17 L160.19,641.86 L161.01,641.44 L161.82,640.91 L162.64,640.31 L163.45,639.65 L164.27,638.95 L165.08,638.24 L165.9,637.52 L166.72,636.82 L167.53,636.15 L168.35,635.51 L169.16,634.91 L169.98,634.38 L170.79,633.9 L171.61,633.5 L172.42,633.17 L173.24,632.92 L174.05,632.76 L174.87,632.68 L175.69,632.68 L176.5,632.78 L177.32,632.96 L178.13,633.22 L178.95,633.57 L179.76,634.01 L180.58,634.53 L181.39,635.12 L182.21,635.79 L183.02,636.53 L183.84,637.34 L184.66,638.21 L185.47,639.14 L186.29,640.11 L187.1,641.14 L187.92,642.21 L188.73,643.31 L189.55,644.45 L190.36,645.61 L191.18,646.79 L191.99,647.98 L192.81,649.18 L193.63,650.39 L194.44,651.6 L195.26,652.79 L196.07,653.98 L196.89,655.16 L197.7,656.31 L198.52,657.45 L199.33,658.56 L200.15,659.64 L200.96,660.69 L201.78,661.7 L202.6,662.68 L203.41,663.63 L204.23,664.54 L205.04,665.41 L205.86,666.23 L206.67,667.02 L207.49,667.77 L208.3,668.48 L209.12,669.15 L209.93,669.79 L210.75,670.38 L211.57,670.93 L212.38,671.45 L213.2,671.94 L214.01,672.39 L214.83,672.81 L215.64,673.19 L216.46,673.55 L217.27,673.88 L218.09,674.18 L218.9,674.46 L219.72,674.71 L220.54,674.94 L221.35,675.15 L222.17,675.34 L222.98,675.51 L223.8,675.67 L224.61,675.81 L225.43,675.94 L226.24,676.05 L227.06,676.15 L227.87,676.24 L228.69,676.32 L229.51,676.4 L230.32,676.46 L231.14,676.52 L231.95,676.57 L232.77,676.61 L233.58,676.65 L234.4,676.68 L235.21,676.71 L236.03,676.74 L236.84,676.76 L237.66,676.78 L238.47,676.8 L239.29,676.81 L240.11,676.83 L240.92,676.84 L241.74,676.85 L242.55,676.85 L243.37,676.86 L244.18,676.87 L245,676.87 L245.81,676.88 L246.63,676.88 L247.44,676.88 L248.26,676.89 L249.08,676.89 L249.89,676.89 L250.71,676.89 L251.52,676.89 L252.34,676.89 L253.15,676.9 L253.97,676.9 L254.78,676.9 L255.6,676.9 L256.41,676.9 L257.23,676.9 L258.05,676.9 L258.86,676.9 L259.68,676.9 L260.49,676.9 L261.31,676.9 L262.12,676.9 L262.94,676.9 L263.75,676.9 L264.57,676.9 L265.38,676.9 L266.2,676.9" fill="none" stroke="#10c810" stroke-width="2.6" stroke-linejoin="round" />
<path d="M55,676.9 L55.82,676.9 L56.63,676.9 L57.45,676.9 L58.26,676.9 L59.08,676.9 L59.89,676.9 L60.71,676.9 L61.52,676.9 L62.34,676.9 L63.15,676.9 L63.97,676.9 L64.79,676.9 L65.6,676.9 L66.42,676.9 L67.23,676.9 L68.05,676.89 L68.86,676.89 L69.68,676.89 L70.49,676.89 L71.31,676.89 L72.12,676.89 L72.94,676.89 L73.76,676.89 L74.57,676.88 L75.39,676.88 L76.2,676.88 L77.02,676.87 L77.83,676.87 L78.65,676.87 L79.46,676.86 L80.28,676.85 L81.09,676.85 L81.91,676.84 L82.73,676.83 L83.54,676.82 L84.36,676.8 L85.17,676.79 L85.99,676.77 L86.8,676.75 L87.62,676.72 L88.43,676.69 L89.25,676.66 L90.06,676.62 L90.88,676.57 L91.69,676.52 L92.51,676.45 L93.33,676.38 L94.14,676.29 L94.96,676.19 L95.77,676.07 L96.59,675.94 L97.4,675.79 L98.22,675.61 L99.03,675.41 L99.85,675.18 L100.66,674.91 L101.48,674.61 L102.3,674.26 L103.11,673.86 L103.93,673.41 L104.74,672.89 L105.56,672.3 L106.37,671.61 L107.19,670.83 L108,669.93 L108.82,668.9 L109.63,667.71 L110.45,666.34 L111.27,664.75 L112.08,662.93 L112.9,660.83 L113.71,658.42 L114.53,655.65 L115.34,652.5 L116.16,648.92 L116.97,644.89 L117.79,640.36 L118.6,635.31 L119.42,629.75 L120.24,623.65 L121.05,617.05 L121.87,609.97 L122.68,602.46 L123.5,594.6 L124.31,586.47 L125.13,578.2 L125.94,569.9 L126.76,561.72 L127.57,553.82 L128.39,546.35 L129.21,539.49 L130.02,533.38 L130.84,528.16 L131.65,523.97 L132.47,520.91 L133.28,519.04 L134.1,518.43 L134.91,519.52 L135.73,522.44 L136.54,527.06 L137.36,533.21 L138.18,540.66 L138.99,549.15 L139.81,558.41 L140.62,568.13 L141.44,578.05 L142.25,587.89 L143.07,597.44 L143.88,606.5 L144.7,614.92 L145.51,622.59 L146.33,629.46 L147.15,635.5 L147.96,640.71 L148.78,645.12 L149.59,648.81 L150.41,651.82 L151.22,654.24 L152.04,656.15 L152.85,657.62 L153.67,658.73 L154.48,659.55 L155.3,660.13 L156.12,660.54 L156.93,660.8 L157.75,660.97 L158.56,661.06 L159.38,661.1 L160.19,661.11 L161.01,661.11 L161.82,661.09 L162.64,661.08 L163.45,661.07 L164.27,661.08 L165.08,661.09 L165.9,661.12 L166.72,661.17 L167.53,661.23 L168.35,661.31 L169.16,661.41 L169.98,661.52 L170.79,661.65 L171.61,661.8 L172.42,661.96 L173.24,662.13 L174.05,662.33 L174.87,662.53 L175.69,662.75 L176.5,662.98 L177.32,663.22 L178.13,663.48 L178.95,663.74 L179.76,664.02 L180.58,664.3 L181.39,664.59 L182.21,664.89 L183.02,665.19 L183.84,665.5 L184.66,665.81 L185.47,666.13 L186.29,666.45 L187.1,666.78 L187.92,667.1 L188.73,667.42 L189.55,667.75 L190.36,668.07 L191.18,668.39 L191.99,668.71 L192.81,669.03 L193.63,669.34 L194.44,669.65 L195.26,669.95 L196.07,670.25 L196.89,670.55 L197.7,670.83 L198.52,671.12 L199.33,671.39 L200.15,671.66 L200.96,671.92 L201.78,672.17 L202.6,672.42 L203.41,672.65 L204.23,672.88 L205.04,673.1 L205.86,673.32 L206.67,673.52 L207.49,673.72 L208.3,673.91 L209.12,674.09 L209.93,674.26 L210.75,674.43 L211.57,674.58 L212.38,674.73 L213.2,674.88 L214.01,675.01 L214.83,675.14 L215.64,675.26 L216.46,675.38 L217.27,675.49 L218.09,675.59 L218.9,675.68 L219.72,675.77 L220.54,675.86 L221.35,675.94 L222.17,676.01 L222.98,676.08 L223.8,676.15 L224.61,676.21 L225.43,676.27 L226.24,676.32 L227.06,676.37 L227.87,676.41 L228.69,676.45 L229.51,676.49 L230.32,676.53 L231.14,676.56 L231.95,676.59 L232.77,676.62 L233.58,676.65 L234.4,676.67 L235.21,676.69 L236.03,676.71 L236.84,676.73 L237.66,676.75 L238.47,676.76 L239.29,676.78 L240.11,676.79 L240.92,676.8 L241.74,676.81 L242.55,676.82 L243.37,676.83 L244.18,676.84 L245,676.84 L245.81,676.85 L246.63,676.85 L247.44,676.86 L248.26,676.86 L249.08,676.87 L249.89,676.87 L250.71,676.87 L251.52,676.88 L252.34,676.88 L253.15,676.88 L253.97,676.88 L254.78,676.89 L255.6,676.89 L256.41,676.89 L257.23,676.89 L258.05,676.89 L258.86,676.89 L259.68,676.89 L260.49,676.89 L261.31,676.9 L262.12,676.9 L262.94,676.9 L263.75,676.9 L264.57,676.9 L265.38,676.9 L266.2,676.9" fill="none" stroke="#ff0000" stroke-width="2.6" stroke-linejoin="round" />
<line x1="55" y1="513" x2="55" y2="677.8" stroke="#1a1a1a" stroke-width="1.3" />
<line x1="50" y1="677.5" x2="55" y2="677.5" stroke="#1a1a1a" stroke-width="1.3" />
<text x="47.4" y="681.5" font-size="11.5" text-anchor="end" font-weight="normal" >0</text>
<line x1="50" y1="626.83" x2="55" y2="626.83" stroke="#1a1a1a" stroke-width="1.3" />
<text x="47.4" y="630.83" font-size="11.5" text-anchor="end" font-weight="normal" >40</text>
<line x1="50" y1="576.16" x2="55" y2="576.16" stroke="#1a1a1a" stroke-width="1.3" />
<text x="47.4" y="580.16" font-size="11.5" text-anchor="end" font-weight="normal" >80</text>
<line x1="50" y1="525.5" x2="55" y2="525.5" stroke="#1a1a1a" stroke-width="1.3" />
<text x="47.4" y="529.5" font-size="11.5" text-anchor="end" font-weight="normal" >120</text>
<line x1="52" y1="652.17" x2="55" y2="652.17" stroke="#1a1a1a" stroke-width="1.3" />
<line x1="52" y1="601.5" x2="55" y2="601.5" stroke="#1a1a1a" stroke-width="1.3" />
<line x1="52" y1="550.83" x2="55" y2="550.83" stroke="#1a1a1a" stroke-width="1.3" />
<line x1="55" y1="677.8" x2="266.2" y2="677.8" stroke="#1a1a1a" stroke-width="1.3" />
<line x1="55" y1="677.8" x2="55" y2="681.8" stroke="#1a1a1a" stroke-width="1.3" />
<text x="56" y="697.4" font-size="11.5" text-anchor="middle">10<tspan font-size="7.5" dy="-7">0</tspan></text>
<line x1="86.79" y1="677.8" x2="86.79" y2="680.4" stroke="#1a1a1a" stroke-width="1.1" />
<line x1="105.38" y1="677.8" x2="105.38" y2="680.4" stroke="#1a1a1a" stroke-width="1.1" />
<line x1="118.58" y1="677.8" x2="118.58" y2="680.4" stroke="#1a1a1a" stroke-width="1.1" />
<line x1="128.81" y1="677.8" x2="128.81" y2="680.4" stroke="#1a1a1a" stroke-width="1.1" />
<line x1="137.17" y1="677.8" x2="137.17" y2="680.4" stroke="#1a1a1a" stroke-width="1.1" />
<line x1="144.24" y1="677.8" x2="144.24" y2="680.4" stroke="#1a1a1a" stroke-width="1.1" />
<line x1="150.37" y1="677.8" x2="150.37" y2="680.4" stroke="#1a1a1a" stroke-width="1.1" />
<line x1="155.77" y1="677.8" x2="155.77" y2="680.4" stroke="#1a1a1a" stroke-width="1.1" />
<line x1="160.6" y1="677.8" x2="160.6" y2="681.8" stroke="#1a1a1a" stroke-width="1.3" />
<text x="161.6" y="697.4" font-size="11.5" text-anchor="middle">10<tspan font-size="7.5" dy="-7">1</tspan></text>
<line x1="192.39" y1="677.8" x2="192.39" y2="680.4" stroke="#1a1a1a" stroke-width="1.1" />
<line x1="210.98" y1="677.8" x2="210.98" y2="680.4" stroke="#1a1a1a" stroke-width="1.1" />
<line x1="224.18" y1="677.8" x2="224.18" y2="680.4" stroke="#1a1a1a" stroke-width="1.1" />
<line x1="234.41" y1="677.8" x2="234.41" y2="680.4" stroke="#1a1a1a" stroke-width="1.1" />
<line x1="242.77" y1="677.8" x2="242.77" y2="680.4" stroke="#1a1a1a" stroke-width="1.1" />
<line x1="249.84" y1="677.8" x2="249.84" y2="680.4" stroke="#1a1a1a" stroke-width="1.1" />
<line x1="255.97" y1="677.8" x2="255.97" y2="680.4" stroke="#1a1a1a" stroke-width="1.1" />
<line x1="261.37" y1="677.8" x2="261.37" y2="680.4" stroke="#1a1a1a" stroke-width="1.1" />
<line x1="266.2" y1="677.8" x2="266.2" y2="681.8" stroke="#1a1a1a" stroke-width="1.3" />
<text x="267.2" y="697.4" font-size="11.5" text-anchor="middle">10<tspan font-size="7.5" dy="-7">2</tspan></text>
<text x="161.5" y="712.6" font-size="15" text-anchor="middle" font-weight="normal" >Expression level (a.u.)</text>
<text x="0" y="0" font-size="15" text-anchor="middle" transform="translate(16.9,593.2) rotate(-90)" >Cell counts</text>
<path d="M145.8,541.3 L167.7,530.3 L167.7,535.6 L188.6,535.6 L188.6,546.4 L167.7,546.4 L167.7,552.2 Z" fill="#c6cdcf" stroke="#444" stroke-width="1"/>
<text x="197.5" y="544.6" font-size="11.5" text-anchor="start" font-weight="normal" >Adaptive drift</text>
<rect x="216.4" y="567.2" width="54.7" height="66.5" fill="#fff" stroke="#555" stroke-width="1.2"/>
<line x1="223.1" y1="577.1" x2="234.5" y2="577.1" stroke="#40f0a0" stroke-width="2.6" />
<line x1="223.1" y1="577.4" x2="234.5" y2="577.4" stroke="#1a9cc8" stroke-width="1.6" stroke-dasharray="1.6 1.3"/>
<text x="241.9" y="581.2" font-size="11.5" text-anchor="start" font-weight="normal" >0 h</text>
<line x1="223.1" y1="593.4" x2="234.5" y2="593.4" stroke="#0000ff" stroke-width="2.6" />
<text x="241.9" y="597.5" font-size="11.5" text-anchor="start" font-weight="normal" >20 h</text>
<line x1="223.1" y1="609.7" x2="234.5" y2="609.7" stroke="#10c810" stroke-width="2.6" />
<text x="241.9" y="613.8" font-size="11.5" text-anchor="start" font-weight="normal" >40 h</text>
<line x1="223.1" y1="626.3" x2="234.5" y2="626.3" stroke="#ff0000" stroke-width="2.6" />
<text x="241.9" y="630.4" font-size="11.5" text-anchor="start" font-weight="normal" >60 h</text>
<path d="M355.26,514.16 L360.52,524.08 L365.79,544.37 L371.05,565.78 L376.31,582.93 L381.57,600.31 L386.84,618.28 L392.1,631.95 L397.36,641.81 L402.62,650.56 L407.89,655.54 L413.15,658.56 L418.41,660.62 L423.68,659.6 L428.94,656.52 L434.2,650.83 L439.46,642.39 L444.73,628.38 L449.99,608.21 L455.25,592.05 L460.51,575.55 L465.77,559.76 L471.04,548.29 L476.3,539.68 L481.56,532.42 L486.83,527.29 L492.09,523.43 L497.35,520.45 L502.61,518.69 L507.88,517.43 L513.14,516.5 L518.4,515.75 L523.66,515.11 L528.92,514.59 L534.19,514.23 L539.45,514.01 L544.71,513.81 L549.98,513.65 L555.24,513.54 L560.5,513.5" fill="none" stroke="#ff0000" stroke-width="2.6" stroke-linejoin="round" />
<path d="M355.26,514.12 L360.52,521.92 L365.79,537.46 L371.05,557.24 L376.31,573.96 L381.57,589.68 L386.84,604.75 L392.1,615.29 L397.36,621.13 L402.62,625.05 L407.89,626.09 L413.15,623.59 L418.41,617.05 L423.68,607.82 L428.94,596.29 L434.2,584.59 L439.46,571.55 L444.73,558.07 L449.99,547.98 L455.25,539.14 L460.51,533.6 L465.77,527.78 L471.04,522.97 L476.3,520.18 L481.56,518.18 L486.83,517.05 L492.09,516.51 L497.35,516.08 L502.61,515.34 L507.88,514.39 L513.14,513.97 L518.4,513.86 L523.66,513.77 L528.92,513.69 L534.19,513.63 L539.45,513.58 L544.71,513.54 L549.98,513.52 L555.24,513.5 L560.5,513.5" fill="none" stroke="#10c810" stroke-width="2.6" stroke-linejoin="round" />
<path d="M355.26,514.06 L360.52,519.5 L365.79,528.31 L371.05,540.31 L376.31,554.82 L381.57,565.09 L386.84,572.67 L392.1,577.58 L397.36,578.5 L402.62,575.17 L407.89,569.88 L413.15,563.34 L418.41,554.99 L423.68,546.67 L428.94,539.97 L434.2,534.24 L439.46,528.85 L444.73,525.26 L449.99,522.39 L455.25,520.21 L460.51,518.52 L465.77,517.23 L471.04,516.42 L476.3,515.88 L481.56,515.38 L486.83,514.75 L492.09,514.18 L497.35,513.92 L502.61,513.76 L507.88,513.63 L513.14,513.54 L518.4,513.5 L523.66,513.5 L528.92,513.5 L534.19,513.5 L539.45,513.5 L544.71,513.5 L549.98,513.5 L555.24,513.5 L560.5,513.5" fill="none" stroke="#0000ff" stroke-width="2.6" stroke-linejoin="round" />
<path d="M355.26,513.6 L360.52,513.94 L365.79,515.37 L371.05,520.55 L376.31,527.95 L381.57,535.28 L386.84,539.93 L392.1,540.3 L397.36,536.06 L402.62,530.1 L407.89,522.87 L413.15,518.83 L418.41,516.26 L423.68,514.89 L428.94,514.13 L434.2,513.7 L439.46,513.5 L444.73,513.5 L449.99,513.5 L455.25,513.5 L460.51,513.5 L465.77,513.5 L471.04,513.5 L476.3,513.5 L481.56,513.5 L486.83,513.5 L492.09,513.5 L497.35,513.5 L502.61,513.5 L507.88,513.5 L513.14,513.5 L518.4,513.5 L523.66,513.5 L528.92,513.5 L534.19,513.5 L539.45,513.5 L544.71,513.5 L549.98,513.5 L555.24,513.5 L560.5,513.5" fill="none" stroke="#0000ff" stroke-width="2.4" stroke-linejoin="round" stroke-dasharray="2.3 1.7"/>
<path d="M355.26,513.62 L360.52,515.17 L365.79,518.47 L371.05,524.63 L376.31,534.96 L381.57,545.63 L386.84,555.82 L392.1,565.17 L397.36,564.17 L402.62,556.39 L407.89,541.71 L413.15,529.19 L418.41,521.39 L423.68,517.07 L428.94,514.86 L434.2,514.07 L439.46,513.76 L444.73,513.57 L449.99,513.5 L455.25,513.5 L460.51,513.5 L465.77,513.5 L471.04,513.5 L476.3,513.5 L481.56,513.5 L486.83,513.5 L492.09,513.5 L497.35,513.5 L502.61,513.5 L507.88,513.5 L513.14,513.5 L518.4,513.5 L523.66,513.5 L528.92,513.5 L534.19,513.5 L539.45,513.5 L544.71,513.5 L549.98,513.5 L555.24,513.5 L560.5,513.5" fill="none" stroke="#10c810" stroke-width="2.4" stroke-linejoin="round" stroke-dasharray="2.3 1.7"/>
<path d="M355.26,513.72 L360.52,516.94 L365.79,522.97 L371.05,533.59 L376.31,545.3 L381.57,558.19 L386.84,571.85 L392.1,582.77 L397.36,588.69 L402.62,584.37 L407.89,573.75 L413.15,550.94 L418.41,531.91 L423.68,523.06 L428.94,518.68 L434.2,516.21 L439.46,514.89 L444.73,514.31 L449.99,513.86 L455.25,513.58 L460.51,513.5 L465.77,513.5 L471.04,513.5 L476.3,513.5 L481.56,513.5 L486.83,513.5 L492.09,513.5 L497.35,513.5 L502.61,513.5 L507.88,513.5 L513.14,513.5 L518.4,513.5 L523.66,513.5 L528.92,513.5 L534.19,513.5 L539.45,513.5 L544.71,513.5 L549.98,513.5 L555.24,513.5 L560.5,513.5" fill="none" stroke="#ff0000" stroke-width="2.4" stroke-linejoin="round" stroke-dasharray="2.3 1.7"/>
<line x1="446" y1="513.6" x2="559.5" y2="513.6" stroke="#10c810" stroke-width="2.4" />
<line x1="446" y1="513.6" x2="559.5" y2="513.6" stroke="#ff0000" stroke-width="2.4" stroke-dasharray="2 2"/>
<line x1="349.5" y1="513.5" x2="349.5" y2="677.7" stroke="#1a1a1a" stroke-width="1.3" />
<line x1="344.5" y1="513.5" x2="349.5" y2="513.5" stroke="#1a1a1a" stroke-width="1.3" />
<text x="341.3" y="517.5" font-size="11.5" text-anchor="end" font-weight="normal" >0</text>
<line x1="344.5" y1="568.23" x2="349.5" y2="568.23" stroke="#1a1a1a" stroke-width="1.3" />
<text x="341.3" y="572.23" font-size="11.5" text-anchor="end" font-weight="normal" >-0.2</text>
<line x1="344.5" y1="622.97" x2="349.5" y2="622.97" stroke="#1a1a1a" stroke-width="1.3" />
<text x="341.3" y="626.97" font-size="11.5" text-anchor="end" font-weight="normal" >-0.4</text>
<line x1="344.5" y1="677.7" x2="349.5" y2="677.7" stroke="#1a1a1a" stroke-width="1.3" />
<text x="341.3" y="681.7" font-size="11.5" text-anchor="end" font-weight="normal" >-0.6</text>
<line x1="346.5" y1="540.87" x2="349.5" y2="540.87" stroke="#1a1a1a" stroke-width="1.3" />
<line x1="346.5" y1="595.6" x2="349.5" y2="595.6" stroke="#1a1a1a" stroke-width="1.3" />
<line x1="346.5" y1="650.33" x2="349.5" y2="650.33" stroke="#1a1a1a" stroke-width="1.3" />
<line x1="349.5" y1="677.7" x2="560.5" y2="677.7" stroke="#1a1a1a" stroke-width="1.3" />
<line x1="350" y1="677.7" x2="350" y2="683.2" stroke="#1a1a1a" stroke-width="1.3" />
<text x="350.7" y="696" font-size="11.5" text-anchor="middle" font-weight="normal" >1</text>
<line x1="402.62" y1="677.7" x2="402.62" y2="683.2" stroke="#1a1a1a" stroke-width="1.3" />
<text x="403.32" y="696" font-size="11.5" text-anchor="middle" font-weight="normal" >10</text>
<line x1="455.25" y1="677.7" x2="455.25" y2="683.2" stroke="#1a1a1a" stroke-width="1.3" />
<text x="455.95" y="696" font-size="11.5" text-anchor="middle" font-weight="normal" >20</text>
<line x1="507.88" y1="677.7" x2="507.88" y2="683.2" stroke="#1a1a1a" stroke-width="1.3" />
<text x="508.57" y="696" font-size="11.5" text-anchor="middle" font-weight="normal" >30</text>
<line x1="560.5" y1="677.7" x2="560.5" y2="683.2" stroke="#1a1a1a" stroke-width="1.3" />
<text x="561.2" y="696" font-size="11.5" text-anchor="middle" font-weight="normal" >40</text>
<text x="456.2" y="711.5" font-size="15" text-anchor="middle" font-weight="normal" >Initial mean expression (a.u.)</text>
<text x="0" y="0" font-size="15" text-anchor="middle" transform="translate(311,595.3) rotate(-90)" >Adaptive drift (%)</text>
<rect x="371.5" y="486.75" width="163.75" height="17.9" fill="#fff" stroke="#555" stroke-width="1.2"/>
<line x1="378.5" y1="495.6" x2="392" y2="495.6" stroke="#0000ff" stroke-width="2.6" />
<text x="397.75" y="499.8" font-size="11.5" text-anchor="start" font-weight="normal" >high noise</text>
<line x1="464.2" y1="495.6" x2="478.6" y2="495.6" stroke="#0000ff" stroke-width="2.4" stroke-dasharray="2.3 1.7"/>
<text x="483.5" y="499.8" font-size="11.5" text-anchor="start" font-weight="normal" >low noise</text>
<rect x="499" y="552.5" width="55.3" height="54.8" fill="#fff" stroke="#555" stroke-width="1.2"/>
<line x1="506" y1="563.5" x2="517.75" y2="563.5" stroke="#0000ff" stroke-width="2.6" />
<text x="524.75" y="567.6" font-size="11.5" text-anchor="start" font-weight="normal" >20 h</text>
<line x1="506" y1="579" x2="517.75" y2="579" stroke="#10c810" stroke-width="2.6" />
<text x="524.75" y="583.1" font-size="11.5" text-anchor="start" font-weight="normal" >40 h</text>
<line x1="506" y1="594.75" x2="517.75" y2="594.75" stroke="#ff0000" stroke-width="2.6" />
<text x="524.75" y="598.85" font-size="11.5" text-anchor="start" font-weight="normal" >60 h</text>
</g></svg>
</body></html>
